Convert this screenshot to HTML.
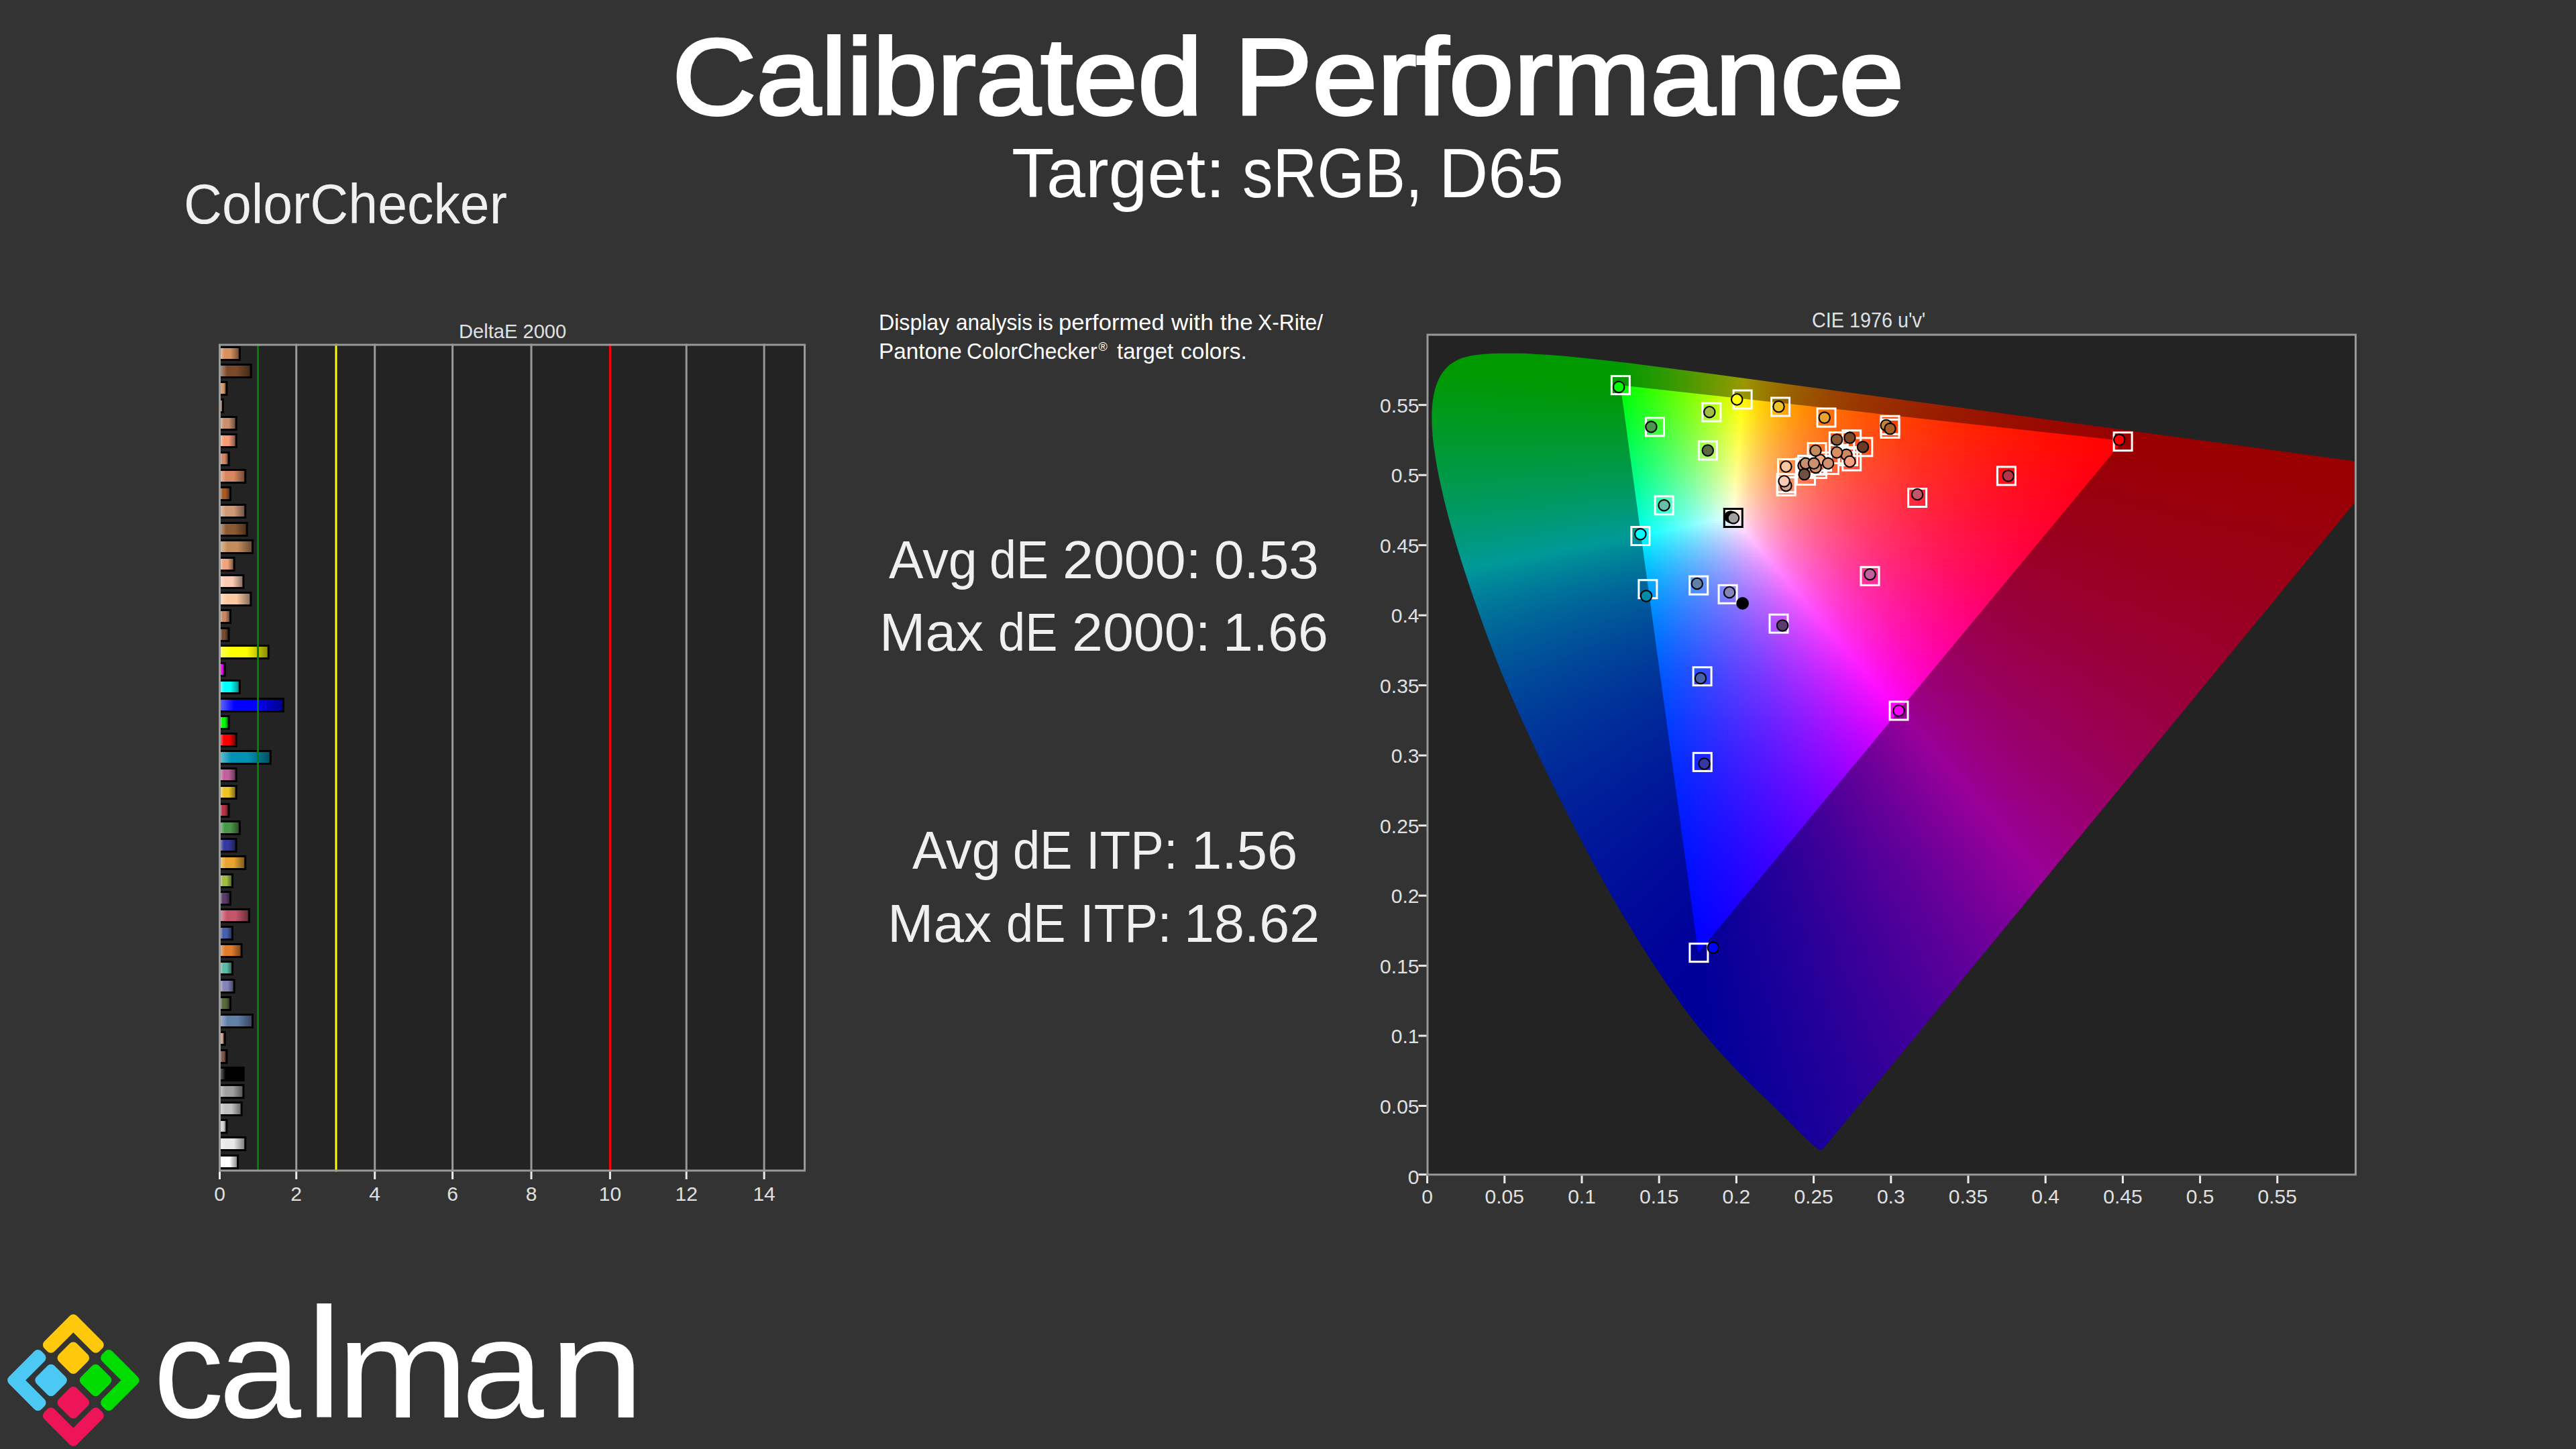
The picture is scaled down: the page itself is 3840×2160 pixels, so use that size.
<!DOCTYPE html><html><head><meta charset="utf-8"><title>Calibrated Performance</title><style>
html,body{margin:0;padding:0}body{width:3840px;height:2160px;overflow:hidden;background:#333333;font-family:"Liberation Sans",sans-serif;position:relative}
.t{position:absolute;white-space:nowrap;line-height:1;transform-origin:0 0;color:#fff}
#cie{position:absolute;left:0;top:0;width:3840px;height:2160px}
#cie i{position:absolute;display:block;height:3px}
svg{position:absolute;left:0;top:0}
svg text{font-family:"Liberation Sans",sans-serif;font-size:30px;fill:#e0e0e0}
</style></head><body>
<div class="t" style="left:0;top:34.2px;font-size:161.2px;color:#ffffff;-webkit-text-stroke:4px #ffffff;paint-order:stroke fill"><span style="position:absolute;left:1002.0px;top:0;transform-origin:0 0;transform:scaleX(1.0757)">Calibrated </span><span style="position:absolute;left:1839.9px;top:0;transform-origin:0 0;transform:scaleX(1.0818)">Performance</span></div>
<div class="t" style="left:0;top:206.8px;font-size:103.6px;color:#ffffff"><span style="position:absolute;left:1508.1px;top:0;transform-origin:0 0;transform:scaleX(1.0046)">Target: </span><span style="position:absolute;left:1851.5px;top:0;transform-origin:0 0;transform:scaleX(0.8802)">sRGB, </span><span style="position:absolute;left:2144.6px;top:0;transform-origin:0 0;transform:scaleX(0.9787)">D65</span></div>
<div class="t" style="left:274.2px;top:263.6px;font-size:82.6px;font-weight:400;transform:scaleX(0.9544);color:#f0f0f0">ColorChecker</div>
<div class="t" style="left:0;top:462.5px;font-size:34.1px;color:#ffffff"><span style="position:absolute;left:1310.2px;top:0;transform-origin:0 0;transform:scaleX(0.9422)">Display </span><span style="position:absolute;left:1425.2px;top:0;transform-origin:0 0;transform:scaleX(0.9264)">analysis </span><span style="position:absolute;left:1547.2px;top:0;transform-origin:0 0;transform:scaleX(0.9286)">is </span><span style="position:absolute;left:1578.4px;top:0;transform-origin:0 0;transform:scaleX(1.0159)">performed </span><span style="position:absolute;left:1745.6px;top:0;transform-origin:0 0;transform:scaleX(1.0356)">with </span><span style="position:absolute;left:1818.5px;top:0;transform-origin:0 0;transform:scaleX(1.0261)">the </span><span style="position:absolute;left:1875.1px;top:0;transform-origin:0 0;transform:scaleX(0.932)">X-Rite/</span></div>
<div class="t" style="left:0;top:505.9px;font-size:34.1px;color:#ffffff"><span style="position:absolute;left:1310.1px;top:0;transform-origin:0 0;transform:scaleX(0.9754)">Pantone </span><span style="position:absolute;left:1441.3px;top:0;transform-origin:0 0;transform:scaleX(0.934)">ColorChecker</span><span style="position:absolute;left:1637.6px;top:2.5px;font-size:18px">® </span><span style="position:absolute;left:1665.1px;top:0;transform-origin:0 0;transform:scaleX(0.9667)">target </span><span style="position:absolute;left:1760.0px;top:0;transform-origin:0 0;transform:scaleX(0.9833)">colors.</span></div>
<div class="t" style="left:0;top:794.8px;font-size:79.7px;color:#f0f0f0"><span style="position:absolute;left:1324.9px;top:0;transform-origin:0 0;transform:scaleX(0.9702)">Avg </span><span style="position:absolute;left:1475.0px;top:0;transform-origin:0 0;transform:scaleX(0.9011)">dE </span><span style="position:absolute;left:1584.2px;top:0;transform-origin:0 0;transform:scaleX(1.0362)">2000: </span><span style="position:absolute;left:1809.6px;top:0;transform-origin:0 0;transform:scaleX(1.004)">0.53</span></div>
<div class="t" style="left:0;top:903.0px;font-size:79.7px;color:#f0f0f0"><span style="position:absolute;left:1310.7px;top:0;transform-origin:0 0;transform:scaleX(1.0306)">Max </span><span style="position:absolute;left:1488.3px;top:0;transform-origin:0 0;transform:scaleX(0.9077)">dE </span><span style="position:absolute;left:1598.1px;top:0;transform-origin:0 0;transform:scaleX(1.0362)">2000: </span><span style="position:absolute;left:1823.3px;top:0;transform-origin:0 0;transform:scaleX(1.011)">1.66</span></div>
<div class="t" style="left:0;top:1228.3px;font-size:79.7px;color:#f0f0f0"><span style="position:absolute;left:1359.7px;top:0;transform-origin:0 0;transform:scaleX(0.9687)">Avg </span><span style="position:absolute;left:1509.8px;top:0;transform-origin:0 0;transform:scaleX(0.9077)">dE </span><span style="position:absolute;left:1619.3px;top:0;transform-origin:0 0;transform:scaleX(0.9348)">ITP: </span><span style="position:absolute;left:1775.5px;top:0;transform-origin:0 0;transform:scaleX(1.0205)">1.56</span></div>
<div class="t" style="left:0;top:1337.0px;font-size:79.7px;color:#f0f0f0"><span style="position:absolute;left:1322.5px;top:0;transform-origin:0 0;transform:scaleX(1.0306)">Max </span><span style="position:absolute;left:1500.1px;top:0;transform-origin:0 0;transform:scaleX(0.9077)">dE </span><span style="position:absolute;left:1609.9px;top:0;transform-origin:0 0;transform:scaleX(0.9341)">ITP: </span><span style="position:absolute;left:1765.2px;top:0;transform-origin:0 0;transform:scaleX(1.0143)">18.62</span></div>
<div class="t" style="left:683.6px;top:478.0px;font-size:30.4px;font-weight:400;transform:scaleX(0.9579);color:#e0e0e0">DeltaE 2000</div>
<div class="t" style="left:2701.0px;top:462.8px;font-size:30.9px;font-weight:400;transform:scaleX(0.9313);color:#e0e0e0">CIE 1976 u'v'</div>
<div class="t" style="left:0;top:1936.3px;font-size:209.9px"><span style="position:absolute;left:228.7px;top:0;transform-origin:0 177.0px;transform:scale(1.0,1.0)">c</span><span style="position:absolute;left:325.5px;top:0;transform-origin:0 177.0px;transform:scale(1.0528,1.0)">a</span><span style="position:absolute;left:456.0px;top:0;transform-origin:0 177.0px;transform:scale(1.1632,1.1118)">l</span><span style="position:absolute;left:501.7px;top:0;transform-origin:0 177.0px;transform:scale(1.1245,1.0)">m</span><span style="position:absolute;left:687.9px;top:0;transform-origin:0 177.0px;transform:scale(1.0519,1.0)">a</span><span style="position:absolute;left:818.0px;top:0;transform-origin:0 177.0px;transform:scale(1.227,1.0)">n</span></div>
<div style="position:absolute;left:2126.5px;top:497.5px;width:1386.5px;height:1255.0px;background:#232323"></div>
<div id="cie" style="clip-path:path('M2718.8 1715.9L2718.5 1715.7L2717.9 1716.2L2716.9 1716.0L2716.3 1717.0L2715.7 1717.2L2712.3 1717.0L2711.0 1716.6L2709.0 1715.6L2706.0 1713.4L2700.8 1709.1L2685.1 1694.6L2661.1 1670.6L2602.0 1612.7L2588.9 1599.5L2574.8 1584.7L2551.8 1559.2L2535.1 1539.6L2526.2 1528.6L2506.5 1502.8L2484.1 1471.3L2459.5 1434.6L2446.6 1414.6L2433.4 1393.4L2419.9 1371.1L2406.0 1347.6L2391.8 1322.9L2377.4 1296.9L2362.8 1269.9L2348.0 1241.9L2318.5 1184.1L2289.3 1124.6L2275.1 1094.4L2261.2 1064.1L2248.0 1033.8L2235.5 1003.8L2223.8 974.3L2212.8 945.4L2202.5 917.1L2192.8 889.6L2183.9 863.0L2175.6 837.5L2168.1 813.1L2161.4 789.9L2155.4 768.0L2150.2 747.5L2145.7 728.2L2141.8 710.2L2138.6 693.4L2136.1 677.6L2134.0 663.0L2132.6 649.5L2131.7 637.0L2131.3 625.4L2131.4 614.7L2131.9 604.7L2133.0 595.4L2134.5 586.8L2136.4 578.8L2138.8 571.5L2141.5 564.8L2144.7 558.7L2148.2 553.2L2152.1 548.3L2156.3 544.0L2160.8 540.3L2165.6 537.1L2170.6 534.3L2175.8 532.0L2181.3 530.0L2186.9 528.5L2192.6 527.2L2198.6 526.2L2210.9 524.9L2223.7 524.0L2236.7 523.7L2256.3 523.6L2276.0 524.1L2310.3 525.9L2332.1 527.7L2354.9 529.9L2387.3 533.4L2431.4 538.6L2557.4 555.0L3561.7 691.4Z')">
<i style="left:2207px;top:522px;width:91px;background:linear-gradient(90deg,#00ff00 0,#00ff00 91px)"></i>
<i style="left:2187px;top:525px;width:151px;background:linear-gradient(90deg,#00ff00 0,#00ff00 151px)"></i>
<i style="left:2176px;top:528px;width:192px;background:linear-gradient(90deg,#00ff00 0,#00ff00 192px)"></i>
<i style="left:2169px;top:531px;width:226px;background:linear-gradient(90deg,#00ff00 0,#00ff00 226px)"></i>
<i style="left:2163px;top:534px;width:258px;background:linear-gradient(90deg,#00ff00 0,#00ff00 247px,#0bff00 258px)"></i>
<i style="left:2159px;top:537px;width:286px;background:linear-gradient(90deg,#00ff00 0,#00ff00 251px,#25ff00 286px)"></i>
<i style="left:2155px;top:540px;width:313px;background:linear-gradient(90deg,#00ff00 0,#00ff00 256px,#3fff00 313px)"></i>
<i style="left:2152px;top:543px;width:340px;background:linear-gradient(90deg,#00ff00 0,#00ff00 259px,#2aff00 298px,#5dff00 340px)"></i>
<i style="left:2149px;top:546px;width:366px;background:linear-gradient(90deg,#00ff02 0,#00ff00 263px,#3bff00 316px,#7bff00 366px)"></i>
<i style="left:2147px;top:549px;width:390px;background:linear-gradient(90deg,#00ff04 0,#00ff00 54px,#00ff00 265px,#48ff00 329px,#9aff00 390px)"></i>
<i style="left:2145px;top:552px;width:415px;background:linear-gradient(90deg,#00ff06 0,#00ff00 83px,#00ff00 268px,#5aff00 345px,#bcff00 415px)"></i>
<i style="left:2143px;top:555px;width:439px;background:linear-gradient(90deg,#00ff08 0,#00ff00 112px,#00ff00 270px,#32ff00 315px,#69ff00 359px,#a3ff00 400px,#e0ff00 439px)"></i>
<i style="left:2141px;top:558px;width:463px;background:linear-gradient(90deg,#00ff0a 0,#00ff00 141px,#00ff00 273px,#35ff00 320px,#6dff00 364px,#b3ff00 413px,#fdff00 458px,#fff800 463px)"></i>
<i style="left:2139px;top:561px;width:488px;background:linear-gradient(90deg,#00ff0c 0,#00ff00 170px,#00ff00 275px,#3aff00 326px,#77ff00 373px,#b8ff00 418px,#feff00 460px,#ffd500 488px)"></i>
<i style="left:2138px;top:564px;width:511px;background:linear-gradient(90deg,#00ff0e 0,#00ff00 198px,#00ff00 276px,#37ff00 325px,#76ff00 374px,#b8ff00 419px,#feff00 461px,#ffd800 486px,#ffba00 511px)"></i>
<i style="left:2137px;top:567px;width:534px;background:linear-gradient(90deg,#00ff10 0,#00ff00 226px,#00ff00 278px,#3bff00 329px,#78ff00 376px,#b9ff00 420px,#ffff00 462px,#ffcd00 495px,#ffa300 534px)"></i>
<i style="left:2136px;top:570px;width:557px;background:linear-gradient(90deg,#00ff12 0,#00ff00 279px,#38ff00 328px,#76ff00 376px,#b9ff00 421px,#ffff00 463px,#ffdf00 483px,#ffc200 505px,#ffa700 530px,#ff9000 557px)"></i>
<i style="left:2135px;top:573px;width:580px;background:linear-gradient(90deg,#00ff14 0,#00ff00 280px,#35ff00 327px,#75ff00 376px,#b6ff00 420px,#fffe00 464px,#ffd800 488px,#ffb700 515px,#ff9900 546px,#ff7f00 580px)"></i>
<i style="left:2134px;top:576px;width:603px;background:linear-gradient(90deg,#00ff16 0,#00ff03 282px,#39ff00 331px,#76ff00 378px,#b4ff00 420px,#fffe00 465px,#ffd400 492px,#ffae00 524px,#ff8d00 561px,#ff7100 603px)"></i>
<i style="left:2133px;top:579px;width:626px;background:linear-gradient(90deg,#00ff18 0,#00ff05 283px,#37ff01 331px,#76ff00 379px,#b8ff00 423px,#ffff00 465px,#ffce00 497px,#ffa600 533px,#ff8300 576px,#ff6500 626px)"></i>
<i style="left:2132px;top:582px;width:649px;background:linear-gradient(90deg,#00ff1a 0,#00ff08 285px,#3aff03 335px,#77ff00 381px,#b9ff00 425px,#ffff00 466px,#ffca00 501px,#ff9e00 542px,#ff7900 591px,#ff5a00 649px)"></i>
<i style="left:2132px;top:585px;width:671px;background:linear-gradient(90deg,#00ff1c 0,#00ff0a 285px,#38ff06 333px,#76ff02 380px,#b8ff00 424px,#feff00 465px,#ffc400 505px,#ff9600 550px,#ff7000 605px,#ff5000 671px)"></i>
<i style="left:2131px;top:588px;width:694px;background:linear-gradient(90deg,#00ff1e 0,#00ff0d 287px,#3aff09 336px,#77ff04 382px,#b8ff00 425px,#feff00 466px,#ffdd00 487px,#ffc100 508px,#ffa700 532px,#ff9000 558px,#ff6800 619px,#ff4700 694px)"></i>
<i style="left:2131px;top:591px;width:716px;background:linear-gradient(90deg,#00ff20 0,#00ff10 287px,#3aff0c 336px,#77ff07 382px,#b8ff03 425px,#ffff00 466px,#ffdb00 488px,#ffbf00 510px,#ffa300 536px,#ff8b00 564px,#ff6100 632px,#ff4000 716px)"></i>
<i style="left:2130px;top:594px;width:740px;background:linear-gradient(90deg,#00ff22 0,#00ff12 288px,#37ff0f 335px,#75ff0a 382px,#b8ff06 426px,#ffff01 467px,#ffdb00 489px,#ffbc00 513px,#ff9f00 541px,#ff8500 572px,#ff5b00 646px,#ff3800 740px)"></i>
<i style="left:2130px;top:597px;width:762px;background:linear-gradient(90deg,#00ff24 0,#00ff15 289px,#39ff11 337px,#77ff0d 383px,#b8ff09 426px,#feff05 466px,#ffd601 492px,#ffb700 517px,#ff9a00 546px,#ff8000 579px,#ff6900 617px,#ff5400 659px,#ff3200 762px)"></i>
<i style="left:2130px;top:600px;width:784px;background:linear-gradient(90deg,#00ff26 0,#00ff18 289px,#37ff14 336px,#77ff10 383px,#b9ff0c 426px,#feff08 466px,#ffd604 492px,#ffb401 519px,#ff9600 550px,#ff7b00 586px,#ff6300 626px,#ff4f00 672px,#ff2c00 784px)"></i>
<i style="left:2129px;top:603px;width:807px;background:linear-gradient(90deg,#00ff28 0,#00ff1a 291px,#3aff17 339px,#78ff13 385px,#b9ff10 427px,#feff0c 467px,#ffd507 493px,#ffb104 522px,#ff9200 555px,#ff7600 593px,#ff5e00 636px,#ff4900 686px,#ff2700 807px)"></i>
<i style="left:2129px;top:606px;width:829px;background:linear-gradient(90deg,#00ff2a 0,#00ff1d 291px,#39ff1a 339px,#76ff17 384px,#b9ff13 427px,#ffff0f 467px,#ffd30a 494px,#ffaf06 524px,#ff8e02 559px,#ff7200 599px,#ff5a00 645px,#ff4400 698px,#ff2200 829px)"></i>
<i style="left:2129px;top:609px;width:851px;background:linear-gradient(90deg,#00ff2c 0,#01ff20 292px,#39ff1d 339px,#76ff1a 384px,#b7ff16 426px,#fdff13 466px,#ffd00d 496px,#ffab08 527px,#ff8b04 563px,#ff6e01 605px,#ff5500 654px,#ff4000 710px,#ff2e00 775px,#ff1d00 851px)"></i>
<i style="left:2129px;top:612px;width:873px;background:linear-gradient(90deg,#00ff2e 0,#00ff22 292px,#39ff20 339px,#76ff1d 384px,#b7ff1a 426px,#feff16 466px,#ffd010 496px,#ffaa0b 528px,#ff8806 566px,#ff6a02 611px,#ff5100 663px,#ff3c00 723px,#ff2900 792px,#ff1900 873px)"></i>
<i style="left:2129px;top:615px;width:895px;background:linear-gradient(90deg,#00ff30 0,#00ff25 292px,#37ff23 338px,#75ff20 383px,#b4ff1d 424px,#fffe1a 467px,#ffcf13 496px,#ffa70d 530px,#ff8408 570px,#ff6704 617px,#ff4d00 671px,#ff3800 735px,#ff2500 809px,#ff1500 895px)"></i>
<i style="left:2129px;top:618px;width:917px;background:linear-gradient(90deg,#00ff32 0,#00ff28 293px,#39ff26 340px,#78ff23 385px,#b9ff20 427px,#ffff1d 466px,#ffcd16 497px,#ffa40f 532px,#ff820a 573px,#ff6305 622px,#ff4a01 679px,#ff3400 746px,#ff2100 825px,#ff1200 917px)"></i>
<i style="left:2129px;top:621px;width:939px;background:linear-gradient(90deg,#00ff34 0,#00ff2b 293px,#38ff29 339px,#76ff26 384px,#b8ff24 426px,#ffff21 466px,#ffcd19 497px,#ffa312 533px,#ff7f0c 576px,#ff6006 627px,#ff4602 687px,#ff3100 757px,#ff1e00 840px,#ff0e00 939px)"></i>
<i style="left:2129px;top:624px;width:961px;background:linear-gradient(90deg,#00ff36 0,#00ff2e 294px,#3aff2c 341px,#77ff29 385px,#b6ff27 425px,#fffe25 466px,#ffcb1b 498px,#ffa114 535px,#ff7c0d 580px,#ff5d08 633px,#ff4303 696px,#ff2d00 770px,#ff1b00 857px,#ff0b00 961px)"></i>
<i style="left:2129px;top:627px;width:983px;background:linear-gradient(90deg,#00ff38 0,#00ff31 294px,#39ff2f 340px,#76ff2d 384px,#b5ff2b 424px,#fffe28 466px,#ffca1e 498px,#ff9e16 537px,#ff790f 583px,#ff5a09 638px,#ff4004 703px,#ff2a00 781px,#ff1800 873px,#ff0800 983px)"></i>
<i style="left:2129px;top:630px;width:1005px;background:linear-gradient(90deg,#00ff3b 0,#00ff33 294px,#36ff32 338px,#74ff30 383px,#b2ff2e 422px,#fffd2c 466px,#ffc921 499px,#ff9c18 539px,#ff7610 587px,#ff570a 644px,#ff3d05 712px,#ff2700 793px,#ff1500 890px,#ff0500 1005px)"></i>
<i style="left:2129px;top:633px;width:1028px;background:linear-gradient(90deg,#00ff3d 0,#00ff36 295px,#39ff35 341px,#77ff33 385px,#b8ff32 426px,#ffff30 465px,#ffc824 499px,#ff9a1a 540px,#ff7412 589px,#ff550c 648px,#ff3a06 719px,#ff2401 804px,#ff1200 906px,#ff0300 1028px)"></i>
<i style="left:2129px;top:636px;width:1050px;background:linear-gradient(90deg,#00ff3f 0,#00ff39 295px,#38ff38 340px,#75ff37 384px,#b5ff35 424px,#fffe33 465px,#ffe12d 482px,#ffc627 500px,#ff981c 542px,#ff7214 592px,#ff520d 653px,#ff3807 726px,#ff2202 815px,#ff0f00 922px,#ff0000 1050px)"></i>
<i style="left:2129px;top:639px;width:1072px;background:linear-gradient(90deg,#00ff41 0,#00ff3c 296px,#39ff3b 341px,#75ff3a 384px,#b4ff39 423px,#fffe37 465px,#ffe030 482px,#ffc52a 501px,#ff961f 544px,#ff6f15 596px,#ff4f0e 660px,#ff3407 739px,#ff1d02 835px,#ff0900 966px,#ff0000 1072px)"></i>
<i style="left:2130px;top:642px;width:1093px;background:linear-gradient(90deg,#00ff43 0,#00ff3f 295px,#38ff3e 340px,#75ff3d 383px,#b2ff3c 421px,#fffd3b 464px,#ffde33 482px,#ffc32c 501px,#ff9321 545px,#ff6c17 599px,#ff4c0f 665px,#ff3008 750px,#ff1902 854px,#ff0300 1018px,#ff0000 1093px)"></i>
<i style="left:2130px;top:645px;width:1115px;background:linear-gradient(90deg,#00ff45 0,#00ff42 295px,#37ff42 339px,#77ff41 384px,#b9ff40 425px,#ffff3f 463px,#ffdf37 481px,#ffc430 500px,#ffa929 522px,#ff9223 546px,#ff6a18 602px,#ff4910 671px,#ff2c08 762px,#ff1602 874px,#ff0000 1043px,#ff0000 1115px)"></i>
<i style="left:2130px;top:648px;width:1137px;background:linear-gradient(90deg,#00ff47 0,#00ff45 296px,#39ff45 341px,#77ff44 384px,#b8ff44 424px,#fffe43 463px,#ffdf3a 481px,#ffc232 501px,#ffa82b 523px,#ff9025 548px,#ff671a 606px,#ff4611 677px,#ff2909 774px,#ff1203 895px,#ff0000 1041px,#ff0000 1137px)"></i>
<i style="left:2130px;top:651px;width:1159px;background:linear-gradient(90deg,#00ff4a 0,#00ff48 296px,#37ff48 340px,#75ff48 383px,#b4ff47 422px,#fffe47 463px,#ffde3e 481px,#ffc035 502px,#ffa52d 525px,#ff8e27 550px,#ff641b 610px,#ff4412 683px,#ff2609 786px,#ff0f03 916px,#ff0000 1038px,#ff0000 1159px)"></i>
<i style="left:2131px;top:654px;width:1180px;background:linear-gradient(90deg,#00ff4c 0,#00ff4b 296px,#38ff4b 340px,#75ff4b 382px,#b3ff4b 420px,#fffe4a 462px,#ffdc41 481px,#ffbe38 502px,#ffa430 525px,#ff8b29 551px,#ff621d 612px,#ff4113 688px,#ff230a 797px,#ff0b03 937px,#ff0000 1035px,#ff0000 1180px)"></i>
<i style="left:2131px;top:657px;width:1202px;background:linear-gradient(90deg,#00ff4e 0,#00ff4e 296px,#39ff4f 341px,#78ff4f 384px,#baff4f 424px,#ffff4f 461px,#ffdd44 480px,#ffbe3b 502px,#ffa232 526px,#ff8a2b 552px,#ff601e 615px,#ff3f14 693px,#ff200a 809px,#ff0803 958px,#ff0000 1033px,#ff0000 1202px)"></i>
<i style="left:2131px;top:660px;width:1224px;background:linear-gradient(90deg,#00ff50 0,#00ff52 296px,#35ff52 338px,#75ff52 382px,#b6ff52 422px,#ffff53 461px,#ffdd48 480px,#ffbd3e 502px,#ffa135 527px,#ff882d 554px,#ff5e1f 618px,#ff3d15 699px,#ff1d0b 821px,#ff0503 981px,#ff0001 1030px,#ff0000 1224px)"></i>
<i style="left:2132px;top:663px;width:1246px;background:linear-gradient(90deg,#00ff52 0,#00ff55 296px,#39ff55 340px,#76ff56 382px,#b5ff56 420px,#fffe57 460px,#ffda4b 480px,#ffbb40 502px,#ff9f37 527px,#ff862f 555px,#ff5c21 621px,#ff3a16 704px,#ff1b0b 833px,#ff0203 1004px,#ff0000 1246px)"></i>
<i style="left:2132px;top:666px;width:1268px;background:linear-gradient(90deg,#00ff55 0,#00ff58 296px,#37ff59 339px,#74ff59 381px,#b3ff5a 419px,#fffe5a 460px,#ffda4e 480px,#ffbb43 502px,#ff9f3a 527px,#ff8531 556px,#ff5a22 624px,#ff3816 709px,#ff180b 844px,#ff0003 1023px,#ff0000 1268px)"></i>
<i style="left:2132px;top:669px;width:1290px;background:linear-gradient(90deg,#00ff57 0,#00ff5b 297px,#39ff5c 341px,#77ff5d 383px,#b9ff5e 422px,#ffff5f 459px,#ffdb52 479px,#ffba47 502px,#ff9d3c 528px,#ff8333 557px,#ff6d2b 589px,#ff5824 626px,#ff3617 714px,#ff180c 846px,#ff0004 1021px,#ff0000 1290px)"></i>
<i style="left:2133px;top:672px;width:1311px;background:linear-gradient(90deg,#00ff59 0,#00ff5e 296px,#38ff5f 339px,#76ff61 381px,#b7ff62 420px,#ffff63 458px,#ffd955 479px,#ffb849 502px,#ff9c3e 528px,#ff8235 557px,#ff6b2d 590px,#ff5625 628px,#ff3418 718px,#ff170d 848px,#ff0005 1018px,#ff0000 1311px)"></i>
<i style="left:2133px;top:675px;width:1333px;background:linear-gradient(90deg,#00ff5b 0,#01ff61 297px,#3aff63 341px,#77ff64 382px,#b5ff66 419px,#fffe67 458px,#ffd859 479px,#ffb84c 502px,#ff9a41 529px,#ff8037 559px,#ff692e 593px,#ff5526 631px,#ff3219 723px,#ff160e 850px,#ff0006 1015px,#ff0000 1333px)"></i>
<i style="left:2134px;top:678px;width:1354px;background:linear-gradient(90deg,#00ff5e 0,#00ff65 296px,#38ff66 339px,#75ff68 380px,#b4ff6a 417px,#fffe6b 457px,#ffd85c 478px,#ffb64f 502px,#ff9943 529px,#ff7e39 560px,#ff672f 595px,#ff5227 634px,#ff301a 728px,#ff150f 852px,#ff0007 1012px,#ff0000 1354px)"></i>
<i style="left:2134px;top:681px;width:1376px;background:linear-gradient(90deg,#00ff60 0,#00ff68 296px,#35ff6a 337px,#74ff6c 379px,#b0ff6d 415px,#fffd6f 457px,#ffd65f 479px,#ffb451 503px,#ff9745 530px,#ff7d3b 561px,#ff6631 596px,#ff5129 636px,#ff2f1b 733px,#ff1510 854px,#ff0008 1009px,#ff0000 1376px)"></i>
<i style="left:2135px;top:684px;width:1375px;background:linear-gradient(90deg,#00ff62 0,#00ff6b 296px,#39ff6d 339px,#77ff6f 380px,#b8ff72 418px,#ffff74 455px,#ffd864 476px,#ffb656 500px,#ff9849 528px,#ff7d3d 559px,#ff6634 594px,#ff512b 634px,#ff2f1c 730px,#ff1511 851px,#ff0009 1006px,#ff0000 1375px)"></i>
<i style="left:2135px;top:687px;width:1375px;background:linear-gradient(90deg,#00ff65 0,#00ff6f 296px,#37ff71 338px,#75ff73 379px,#b6ff76 417px,#fffe78 455px,#ffd867 476px,#ffb659 500px,#ff974b 528px,#ff7c40 559px,#ff6536 594px,#ff512d 634px,#ff2e1e 730px,#ff1413 850px,#ff000a 1003px,#ff0000 1375px)"></i>
<i style="left:2136px;top:690px;width:1374px;background:linear-gradient(90deg,#00ff67 0,#00ff72 296px,#39ff74 338px,#75ff77 378px,#b4ff7a 415px,#fffe7c 454px,#ffd76b 475px,#ffb55c 499px,#ff964e 527px,#ff7c42 558px,#ff6538 593px,#ff502f 633px,#ff2e1f 729px,#ff1414 848px,#ff000b 1000px,#ff0000 1374px)"></i>
<i style="left:2136px;top:693px;width:1374px;background:linear-gradient(90deg,#00ff69 0,#00ff75 296px,#38ff78 338px,#75ff7b 378px,#b3ff7e 414px,#fffd80 454px,#ffd76f 475px,#ffb55f 499px,#ff9651 527px,#ff7b45 558px,#ff643a 593px,#ff5030 633px,#ff2e21 729px,#ff1415 847px,#ff000c 997px,#ff0000 1374px)"></i>
<i style="left:2137px;top:696px;width:1373px;background:linear-gradient(90deg,#00ff6c 0,#00ff79 295px,#36ff7c 336px,#76ff7f 378px,#b8ff82 416px,#ffff86 452px,#ffd873 473px,#ffb563 497px,#ff9754 524px,#ff7c48 555px,#ff653d 590px,#ff5033 630px,#ff2e22 727px,#ff1416 845px,#ff000d 994px,#ff0000 1373px)"></i>
<i style="left:2137px;top:699px;width:1373px;background:linear-gradient(90deg,#00ff6e 0,#00ff7c 296px,#39ff7f 338px,#76ff83 378px,#b7ff86 415px,#fffe8a 452px,#ffd777 473px,#ffb566 497px,#ff9757 524px,#ff7c4a 555px,#ff643f 590px,#ff5035 630px,#ff2d24 726px,#ff1417 843px,#ff000e 991px,#ff0001 1373px)"></i>
<i style="left:2138px;top:702px;width:1372px;background:linear-gradient(90deg,#00ff71 0,#00ff80 295px,#37ff83 336px,#75ff87 376px,#b3ff8a 412px,#fffe8e 451px,#ffd77a 472px,#ffb469 496px,#ff965a 523px,#ff7b4d 554px,#ff6441 589px,#ff4f36 629px,#ff2d25 725px,#ff1419 841px,#ff000f 988px,#ff0002 1372px)"></i>
<i style="left:2138px;top:705px;width:1372px;background:linear-gradient(90deg,#00ff73 0,#00ff83 296px,#38ff87 337px,#74ff8b 376px,#b1ff8e 411px,#fffd92 451px,#ffd67e 472px,#ffb46c 496px,#ff965d 523px,#ff7b4f 554px,#ff6443 589px,#ff4f38 629px,#ff2d27 725px,#ff141a 840px,#ff0010 985px,#ff0002 1372px)"></i>
<i style="left:2139px;top:708px;width:1371px;background:linear-gradient(90deg,#00ff76 0,#00ff87 295px,#39ff8b 337px,#78ff8f 377px,#b9ff93 414px,#ffff98 449px,#ffd783 470px,#ffb570 494px,#ff9660 521px,#ff7b52 552px,#ff6445 587px,#ff4f3a 627px,#ff2d28 723px,#ff141b 837px,#ff0011 982px,#ff0003 1371px)"></i>
<i style="left:2139px;top:711px;width:1371px;background:linear-gradient(90deg,#00ff78 0,#00ff8a 295px,#35ff8e 334px,#74ff93 375px,#b5ff97 412px,#fffe9c 449px,#ffd787 470px,#ffb474 494px,#ff9663 521px,#ff7b54 552px,#ff6348 587px,#ff4e3c 627px,#ff2c2a 723px,#ff141c 836px,#ff0012 979px,#ff0003 1371px)"></i>
<i style="left:2140px;top:714px;width:1370px;background:linear-gradient(90deg,#00ff7a 0,#00ff8e 295px,#39ff92 336px,#76ff97 375px,#b4ff9b 410px,#fffea0 448px,#ffd68a 469px,#ffb477 493px,#ff9566 520px,#ff7a57 551px,#ff634a 586px,#ff4e3e 626px,#ff2c2b 722px,#ff131e 834px,#ff0013 976px,#ff0004 1370px)"></i>
<i style="left:2141px;top:717px;width:1369px;background:linear-gradient(90deg,#00ff7d 0,#00ff92 294px,#37ff96 334px,#74ff9b 373px,#b2ffa0 408px,#fffda5 447px,#ffd68e 468px,#ffb37a 492px,#ff9569 519px,#ff7a59 550px,#ff624c 585px,#ff4d40 625px,#ff2b2d 721px,#ff131f 833px,#ff0014 973px,#ff0004 1369px)"></i>
<i style="left:2141px;top:720px;width:1369px;background:linear-gradient(90deg,#00ff7f 0,#00ff95 295px,#39ff9a 336px,#77ff9f 375px,#baffa5 412px,#ffffaa 446px,#ffd793 467px,#ffb57f 490px,#ff966d 517px,#ff7b5d 548px,#ff634f 583px,#ff4e43 623px,#ff2c2e 719px,#ff1320 830px,#ff0015 970px,#ff0005 1369px)"></i>
<i style="left:2142px;top:723px;width:1368px;background:linear-gradient(90deg,#00ff82 0,#00ff99 294px,#38ff9e 334px,#75ffa3 373px,#b6ffa9 409px,#ffffaf 445px,#ffd697 466px,#ffb482 489px,#ff9670 516px,#ff7a5f 547px,#ff6251 582px,#ff4d44 622px,#ff2b30 718px,#ff1321 828px,#ff0016 967px,#ff0005 1368px)"></i>
<i style="left:2143px;top:726px;width:1367px;background:linear-gradient(90deg,#00ff85 0,#01ff9d 294px,#3affa2 335px,#77ffa8 373px,#b6ffad 408px,#fffeb3 444px,#ffd69b 465px,#ffb486 488px,#ff9573 515px,#ff7a62 546px,#ff6253 581px,#ff4d46 621px,#ff2b31 717px,#ff1323 826px,#ff0017 963px,#ff0006 1367px)"></i>
<i style="left:2143px;top:729px;width:1367px;background:linear-gradient(90deg,#00ff87 0,#00ffa1 294px,#38ffa6 334px,#75ffac 372px,#b2ffb2 406px,#fffdb8 444px,#ffd59f 465px,#ffb389 488px,#ff9476 515px,#ff7964 546px,#ff6155 581px,#ff4d49 620px,#ff2a33 717px,#ff1324 825px,#ff0018 961px,#ff0007 1367px)"></i>
<i style="left:2144px;top:732px;width:1366px;background:linear-gradient(90deg,#00ff8a 0,#00ffa4 293px,#37ffaa 332px,#77ffb0 372px,#b8ffb7 408px,#ffffbe 442px,#ffd6a4 463px,#ffb48d 486px,#ff9579 513px,#ff7a68 543px,#ff6258 578px,#ff4d4b 617px,#ff2b35 714px,#ff1325 822px,#ff0019 957px,#ff0007 1366px)"></i>
<i style="left:2145px;top:735px;width:1365px;background:linear-gradient(90deg,#00ff8c 0,#00ff99 160px,#00ffa8 293px,#39ffae 333px,#77ffb5 371px,#b7ffbb 406px,#ffffc2 441px,#ffd6a7 462px,#ffb391 485px,#ff947c 512px,#ff7a6b 542px,#ff625b 577px,#ff4d4d 616px,#ff2a36 713px,#ff1327 820px,#ff001a 954px,#ff0008 1365px)"></i>
<i style="left:2145px;top:738px;width:1365px;background:linear-gradient(90deg,#00ff8f 0,#00ff9c 160px,#00ffac 293px,#37ffb2 332px,#75ffb9 370px,#b5ffc0 405px,#fffec7 441px,#ffd5ab 462px,#ffb394 485px,#ff947f 512px,#ff796d 542px,#ff615d 577px,#ff4c4f 616px,#ff2a38 713px,#ff1328 819px,#ff001b 951px,#ff0008 1365px)"></i>
<i style="left:2146px;top:741px;width:1364px;background:linear-gradient(90deg,#00ff91 0,#00ff9f 160px,#01ffb0 293px,#3affb7 333px,#76ffbd 370px,#b3ffc4 403px,#fffecc 440px,#ffd5af 461px,#ffb298 484px,#ff9382 511px,#ff7970 541px,#ff615f 576px,#ff4c51 615px,#ff2939 712px,#ff1229 817px,#ff001d 948px,#ff0009 1364px)"></i>
<i style="left:2147px;top:744px;width:1363px;background:linear-gradient(90deg,#00ff94 0,#00ffa3 159px,#00ffb4 292px,#38ffbb 331px,#74ffc2 368px,#b1ffc9 401px,#fffdd0 439px,#ffd4b3 460px,#ffb29b 483px,#ff9385 510px,#ff7872 540px,#ff6062 575px,#ff4b53 614px,#ff293b 711px,#ff122b 815px,#ff001e 944px,#ff0012 1128px,#ff0009 1363px)"></i>
<i style="left:2148px;top:747px;width:1362px;background:linear-gradient(90deg,#00ff97 0,#00ffa6 159px,#00ffb8 291px,#36ffbf 329px,#76ffc6 368px,#b7ffce 403px,#ffffd7 437px,#ffd5b9 458px,#ffb2a0 481px,#ff9389 508px,#ff7876 538px,#ff6064 573px,#ff4b55 612px,#ff293d 708px,#ff122c 812px,#ff001f 941px,#ff0013 1125px,#ff000a 1362px)"></i>
<i style="left:2148px;top:750px;width:1362px;background:linear-gradient(90deg,#00ff99 0,#00ffa9 160px,#00ffbc 292px,#39ffc3 331px,#76ffcb 368px,#b5ffd3 402px,#fffedb 437px,#ffd5bd 458px,#ffb2a3 481px,#ff928c 508px,#ff7878 538px,#ff6067 573px,#ff4b57 612px,#ff293e 708px,#ff122d 810px,#ff0020 938px,#ff0014 1123px,#ff000b 1362px)"></i>
<i style="left:2149px;top:753px;width:1361px;background:linear-gradient(90deg,#00ff9c 0,#00ffac 159px,#00ffc0 291px,#37ffc7 329px,#74ffcf 366px,#b4ffd7 400px,#fffee0 436px,#ffd4c1 457px,#ffb1a7 480px,#ff928f 507px,#ff777b 537px,#ff5f69 572px,#ff4b59 611px,#ff2840 707px,#ff122f 809px,#ff0021 935px,#ff0015 1121px,#ff000b 1361px)"></i>
<i style="left:2150px;top:756px;width:1360px;background:linear-gradient(90deg,#00ff9f 0,#00ffb0 159px,#00ffc4 291px,#38ffcc 329px,#74ffd4 365px,#b0ffdc 397px,#fffde5 435px,#ffd4c5 456px,#ffb1aa 479px,#ff9192 506px,#ff777e 536px,#ff5f6b 571px,#ff4a5b 610px,#ff2841 706px,#ff1230 806px,#ff0022 931px,#ff0016 1118px,#ff000c 1360px)"></i>
<i style="left:2151px;top:759px;width:1358px;background:linear-gradient(90deg,#00ffa2 0,#00ffb3 159px,#00ffc8 290px,#39ffd0 329px,#77ffd9 366px,#b8ffe2 400px,#ffffec 433px,#ffd6cc 453px,#ffb3b0 476px,#ff9397 503px,#ff7881 533px,#ff5f6e 568px,#ff4a5e 607px,#ff2843 703px,#ff1232 803px,#ff0024 928px,#ff0016 1115px,#ff000c 1358px)"></i>
<i style="left:2151px;top:762px;width:1355px;background:linear-gradient(90deg,#00ffa4 0,#00ffb7 159px,#00ffcc 290px,#34ffd4 326px,#74ffdd 364px,#b4ffe6 398px,#fffef1 433px,#ffd6d0 453px,#ffb2b4 476px,#ff929a 503px,#ff7784 533px,#ff5f71 567px,#ff4a60 606px,#ff2845 702px,#ff1233 801px,#ff0025 925px,#ff0017 1112px,#ff000d 1355px)"></i>
<i style="left:2152px;top:765px;width:1352px;background:linear-gradient(90deg,#00ffa7 0,#00ffba 159px,#00ffd1 290px,#39ffd9 328px,#75ffe2 364px,#b4ffeb 397px,#fffef5 432px,#ffd5d4 452px,#ffb2b7 475px,#ff929d 502px,#ff7787 532px,#ff5f74 566px,#ff4a62 605px,#ff2846 701px,#ff1234 800px,#ff0026 922px,#ff0018 1109px,#ff000e 1352px)"></i>
<i style="left:2153px;top:768px;width:1348px;background:linear-gradient(90deg,#00ffaa 0,#00ffbd 158px,#00ffd5 289px,#35ffdd 325px,#73ffe7 362px,#b0fff0 394px,#fffdfa 431px,#ffd5d9 451px,#ffb1bb 474px,#ff92a1 500px,#ff778a 530px,#ff5f76 564px,#ff4a65 603px,#ff2748 699px,#ff1236 797px,#ff0027 918px,#ff0019 1105px,#ff000e 1348px)"></i>
<i style="left:2154px;top:771px;width:1345px;background:linear-gradient(90deg,#00ffad 0,#00ffc1 158px,#00ffd9 289px,#36ffe2 325px,#70ffeb 359px,#acfff4 391px,#efffff 422px,#fffafd 431px,#ffd2dc 451px,#ffafbd 474px,#ff91a3 500px,#ff758c 530px,#ff5e78 564px,#ff4967 603px,#ff2749 699px,#ff1137 796px,#ff0028 915px,#ff001a 1102px,#ff000f 1345px)"></i>
<i style="left:2155px;top:774px;width:1341px;background:linear-gradient(90deg,#00ffb0 0,#00ffc4 158px,#00ffdd 288px,#31ffe5 321px,#68ffee 354px,#ceffff 406px,#fff5ff 432px,#ffcedd 452px,#ffacbf 475px,#ff8da4 502px,#ff728d 532px,#ff5b79 566px,#ff4767 605px,#ff264a 700px,#ff1138 795px,#ff002a 911px,#ff001b 1098px,#ff0010 1341px)"></i>
<i style="left:2155px;top:777px;width:1339px;background:linear-gradient(90deg,#00ffb2 0,#00ffc8 158px,#00ffe2 288px,#50ffef 340px,#adffff 390px,#ffeefe 435px,#ffc7db 456px,#ffa6be 479px,#ff88a4 506px,#ff6f8d 536px,#ff5879 571px,#ff4467 610px,#ff244b 705px,#ff1039 797px,#ff002b 909px,#ff001c 1096px,#ff0010 1339px)"></i>
<i style="left:2156px;top:780px;width:1335px;background:linear-gradient(90deg,#00ffb5 0,#00ffcb 158px,#00ffe6 288px,#46fff2 333px,#8fffff 374px,#ffe9ff 436px,#ffc3dc 457px,#ffa3bf 480px,#ff86a5 507px,#ff6d8e 537px,#ff567a 572px,#ff4369 611px,#ff234c 706px,#ff103a 796px,#ff002c 905px,#ff001d 1092px,#ff0011 1335px)"></i>
<i style="left:2157px;top:783px;width:1332px;background:linear-gradient(90deg,#00ffb8 0,#00ffcf 157px,#00ffea 287px,#35fff4 322px,#73ffff 358px,#ffe3fe 438px,#ffbedc 459px,#ff9fc0 482px,#ff82a5 509px,#ff698e 540px,#ff547a 575px,#ff4169 614px,#ff214c 710px,#ff0f3b 797px,#ff002d 902px,#ff001e 1089px,#ff0012 1332px)"></i>
<i style="left:2158px;top:786px;width:1328px;background:linear-gradient(90deg,#00ffbb 0,#00ffd3 157px,#00ffef 287px,#58ffff 342px,#ffdeff 439px,#ffbadd 460px,#ff9cc1 483px,#ff80a7 510px,#ff6790 541px,#ff527c 576px,#ff406a 615px,#ff214d 711px,#ff0f3d 796px,#ff002f 898px,#ff001f 1085px,#ff0012 1328px)"></i>
<i style="left:2159px;top:789px;width:1325px;background:linear-gradient(90deg,#00ffbe 0,#00ffd6 157px,#00fff3 286px,#3effff 326px,#96edff 380px,#ffd8fe 441px,#ffb5dd 462px,#ff97c0 486px,#ff7ca6 513px,#ff6490 544px,#ff3d6a 619px,#ff1f4e 715px,#ff0e3e 797px,#ff0030 895px,#ff0020 1081px,#ff0013 1325px)"></i>
<i style="left:2159px;top:792px;width:1322px;background:linear-gradient(90deg,#00ffc1 0,#00ffda 157px,#01fff8 287px,#25ffff 311px,#90e9ff 378px,#ffd3ff 443px,#ffb2de 464px,#ff94c1 488px,#ff7aa8 515px,#ff6291 546px,#ff3c6c 621px,#ff1e4f 717px,#ff0e3f 798px,#ff0031 893px,#ff0021 1079px,#ff0014 1322px)"></i>
<i style="left:2160px;top:795px;width:1319px;background:linear-gradient(90deg,#00ffc4 0,#00ffde 157px,#00fffd 286px,#7ae9ff 365px,#ffcefe 445px,#ffadde 466px,#ff90c1 490px,#ff76a7 518px,#ff5f91 549px,#ff3a6c 624px,#ff1d4f 720px,#ff0033 889px,#ff0022 1075px,#ff0014 1319px)"></i>
<i style="left:2161px;top:798px;width:1315px;background:linear-gradient(90deg,#00ffc7 0,#00ffdf 142px,#00fdff 285px,#71e6ff 360px,#ffc8fe 447px,#ffa7dd 469px,#ff8bc0 493px,#ff72a7 521px,#ff5c91 552px,#ff386c 627px,#ff1b4f 724px,#ff0034 886px,#ff0022 1072px,#ff0015 1315px)"></i>
<i style="left:2162px;top:801px;width:1312px;background:linear-gradient(90deg,#00ffca 0,#00ffe2 142px,#00ffff 261px,#00f8ff 285px,#7bdfff 367px,#ffc4ff 448px,#ffa4de 470px,#ff89c2 494px,#ff70a8 522px,#ff5a92 553px,#ff366d 628px,#ff1a50 725px,#ff0035 882px,#ff0023 1068px,#ff0016 1312px)"></i>
<i style="left:2163px;top:804px;width:1308px;background:linear-gradient(90deg,#00ffcd 0,#00ffe4 132px,#00ffff 245px,#00f4ff 284px,#74dcff 363px,#ffbefe 450px,#ff9fdd 472px,#ff85c2 496px,#ff6da9 524px,#ff5893 555px,#ff356e 631px,#ff1951 728px,#ff0037 879px,#ff0024 1065px,#ff0016 1308px)"></i>
<i style="left:2164px;top:807px;width:1305px;background:linear-gradient(90deg,#00ffd0 0,#00ffe6 123px,#00ffff 228px,#00efff 284px,#7bd6ff 368px,#ffbaff 451px,#ff9cdf 473px,#ff81c2 498px,#ff6aa9 526px,#ff5693 557px,#ff336e 633px,#ff1852 730px,#ff0038 875px,#ff0025 1061px,#ff0017 1305px)"></i>
<i style="left:2165px;top:810px;width:1302px;background:linear-gradient(90deg,#00ffd4 0,#00ffe8 113px,#00ffff 212px,#00ebff 283px,#76d3ff 365px,#ffb5fe 453px,#ff98de 475px,#ff7ec2 500px,#ff67a9 528px,#ff5393 560px,#ff316f 636px,#ff1752 733px,#ff0039 872px,#ff0026 1058px,#ff0018 1302px)"></i>
<i style="left:2166px;top:813px;width:1298px;background:linear-gradient(90deg,#00ffd7 0,#00ffea 104px,#00ffff 196px,#00e7ff 282px,#78ceff 367px,#ffb2ff 454px,#ff95df 476px,#ff7cc3 501px,#ff65ab 529px,#ff5194 561px,#ff3070 637px,#ff1653 735px,#ff003b 868px,#ff0027 1054px,#ff0019 1298px)"></i>
<i style="left:2167px;top:816px;width:1295px;background:linear-gradient(90deg,#00ffda 0,#00ffff 180px,#00e3ff 282px,#79caff 368px,#ffadfe 456px,#ff93e2 476px,#ff7cc7 499px,#ff559c 552px,#ff3679 619px,#ff1c5c 702px,#ff0d4b 777px,#ff003c 865px,#ff0028 1050px,#ff0019 1295px)"></i>
<i style="left:2167px;top:819px;width:1292px;background:linear-gradient(90deg,#00ffdd 0,#00ffff 164px,#00dfff 282px,#7ac5ff 370px,#ffa9ff 458px,#ff8fe1 479px,#ff79c9 501px,#ff539c 555px,#ff347a 621px,#ff1c5d 704px,#ff0d4c 777px,#ff003e 862px,#ff0029 1047px,#ff001a 1292px)"></i>
<i style="left:2168px;top:822px;width:1289px;background:linear-gradient(90deg,#00ffe0 0,#00ffff 148px,#00dbff 282px,#79c2ff 370px,#ffa5fe 460px,#ff8de2 480px,#ff76c9 503px,#ff519e 556px,#ff337b 622px,#ff1b5e 705px,#ff003f 859px,#ff002a 1044px,#ff001b 1289px)"></i>
<i style="left:2169px;top:825px;width:1285px;background:linear-gradient(90deg,#00ffe4 0,#00ffff 132px,#00d8ff 281px,#74bfff 367px,#ffa0fe 462px,#ff89e2 482px,#ff73c9 505px,#ff4e9d 559px,#ff317b 625px,#ff1a5f 707px,#ff0041 855px,#ff002c 1040px,#ff001b 1285px)"></i>
<i style="left:2170px;top:828px;width:1282px;background:linear-gradient(90deg,#00ffe7 0,#00ffff 116px,#00d4ff 280px,#76bbff 369px,#ff9dff 463px,#ff86e3 483px,#ff71ca 506px,#ff4d9e 560px,#ff307c 626px,#ff1960 708px,#ff0042 852px,#ff002d 1037px,#ff001c 1282px)"></i>
<i style="left:2171px;top:831px;width:1278px;background:linear-gradient(90deg,#00ffea 0,#00ffff 99px,#00d1ff 280px,#77b7ff 370px,#ff98fe 465px,#ff82e3 485px,#ff6eca 508px,#ff4b9f 562px,#ff2f7d 628px,#ff1861 710px,#ff0044 848px,#ff002e 1033px,#ff001d 1278px)"></i>
<i style="left:2172px;top:834px;width:1275px;background:linear-gradient(90deg,#00ffee 0,#00ffff 83px,#00cdff 279px,#78b3ff 371px,#ff95ff 466px,#ff80e4 486px,#ff6ccb 509px,#ff49a0 563px,#ff2d7e 629px,#ff1762 710px,#ff0045 845px,#ff002f 1030px,#ff001e 1275px)"></i>
<i style="left:2173px;top:837px;width:1271px;background:linear-gradient(90deg,#00fff1 0,#00ffff 67px,#00caff 279px,#77b0ff 371px,#ff91fe 468px,#ff7be2 489px,#ff68ca 512px,#ff47a0 565px,#ff2c7e 631px,#ff1662 712px,#ff0047 841px,#ff0030 1026px,#ff001e 1271px)"></i>
<i style="left:2174px;top:840px;width:1268px;background:linear-gradient(90deg,#00fff4 0,#00ffff 51px,#00c7ff 278px,#7babff 374px,#ff8eff 469px,#ff79e3 490px,#ff66cb 513px,#ff45a2 566px,#ff2b7f 632px,#ff1563 713px,#ff0048 838px,#ff0031 1023px,#ff001f 1268px)"></i>
<i style="left:2175px;top:843px;width:1264px;background:linear-gradient(90deg,#00fff8 0,#00ffff 35px,#00c3ff 278px,#79a9ff 373px,#ff8afe 471px,#ff75e3 492px,#ff63cb 515px,#ff43a2 568px,#ff2980 634px,#ff1464 714px,#ff004a 834px,#ff0032 1018px,#ff0020 1264px)"></i>
<i style="left:2176px;top:846px;width:1261px;background:linear-gradient(90deg,#00fffb 0,#00ffff 18px,#00f5ff 64px,#00c0ff 277px,#7ca5ff 376px,#ff87ff 472px,#ff73e4 493px,#ff61cc 516px,#ff42a3 569px,#ff2881 635px,#ff1365 715px,#ff004b 831px,#ff0033 1015px,#ff0021 1261px)"></i>
<i style="left:2177px;top:849px;width:1257px;background:linear-gradient(90deg,#00ffff 0,#00bdff 276px,#76a3ff 372px,#ff84fe 474px,#ff70e4 495px,#ff5ecc 518px,#ff40a3 571px,#ff2781 637px,#ff1266 717px,#ff004d 827px,#ff0034 1011px,#ff0022 1257px)"></i>
<i style="left:2178px;top:852px;width:1254px;background:linear-gradient(90deg,#00fcff 0,#00baff 276px,#7d9eff 378px,#ff81ff 475px,#ff5ccd 519px,#ff3fa4 572px,#ff2683 637px,#ff1267 717px,#ff004f 824px,#ff0035 1008px,#ff0022 1254px)"></i>
<i style="left:2179px;top:855px;width:1251px;background:linear-gradient(90deg,#00f8ff 0,#00b7ff 275px,#799cff 375px,#ff7dff 477px,#ff5acd 521px,#ff3da5 574px,#ff2583 639px,#ff1168 719px,#ff0050 820px,#ff0036 1004px,#ff0023 1251px)"></i>
<i style="left:2180px;top:858px;width:1247px;background:linear-gradient(90deg,#00f5ff 0,#00b4ff 275px,#7799ff 374px,#ff7afe 479px,#ff57cd 523px,#ff3ba5 576px,#ff2384 641px,#ff1069 720px,#ff0052 817px,#ff0040 933px,#ff0030 1075px,#ff0024 1247px)"></i>
<i style="left:2181px;top:861px;width:1244px;background:linear-gradient(90deg,#00f2ff 0,#00b1ff 274px,#7a96ff 377px,#ff77ff 480px,#ff55ce 524px,#ff39a6 577px,#ff2285 642px,#ff0f69 721px,#ff0054 813px,#ff0040 932px,#ff0031 1073px,#ff0025 1244px)"></i>
<i style="left:2182px;top:864px;width:1240px;background:linear-gradient(90deg,#00efff 0,#00afff 273px,#7594ff 373px,#ff74fe 482px,#ff53ce 526px,#ff38a6 579px,#ff2185 644px,#ff0e6a 722px,#ff0055 810px,#ff0041 932px,#ff0032 1071px,#ff0025 1240px)"></i>
<i style="left:2183px;top:867px;width:1237px;background:linear-gradient(90deg,#00ebff 0,#00acff 273px,#7d8fff 380px,#ff71ff 483px,#ff51cf 527px,#ff36a7 580px,#ff2086 645px,#ff0e6b 723px,#ff0057 806px,#ff0042 932px,#ff0033 1070px,#ff0026 1237px)"></i>
<i style="left:2184px;top:870px;width:1233px;background:linear-gradient(90deg,#00e8ff 0,#00a9ff 272px,#768eff 375px,#ff6efe 485px,#ff4ecf 529px,#ff34a8 582px,#ff1f87 646px,#ff0d6c 724px,#ff0059 803px,#ff0043 931px,#ff0034 1068px,#ff0027 1233px)"></i>
<i style="left:2185px;top:873px;width:1230px;background:linear-gradient(90deg,#00e5ff 0,#00a7ff 272px,#7d8aff 381px,#ff6cff 486px,#ff4dd0 530px,#ff33a9 583px,#ff1e88 647px,#ff0c6d 725px,#ff005a 799px,#ff0044 931px,#ff0034 1067px,#ff0028 1230px)"></i>
<i style="left:2186px;top:876px;width:1226px;background:linear-gradient(90deg,#00e2ff 0,#00a4ff 271px,#7988ff 378px,#ff68fe 488px,#ff4ad0 532px,#ff31a9 585px,#ff1d89 649px,#ff0b6e 726px,#ff005c 796px,#ff0045 930px,#ff0035 1064px,#ff0029 1226px)"></i>
<i style="left:2187px;top:879px;width:1223px;background:linear-gradient(90deg,#00dfff 0,#00a1ff 271px,#7d84ff 382px,#ff66ff 489px,#ff49d1 533px,#ff30aa 586px,#ff1c89 650px,#ff0b6f 727px,#ff005e 792px,#ff0046 930px,#ff0036 1063px,#ff0029 1223px)"></i>
<i style="left:2188px;top:882px;width:1219px;background:linear-gradient(90deg,#00dcff 0,#009fff 270px,#7b82ff 381px,#ff63ff 491px,#ff46d1 535px,#ff2eaa 588px,#ff1a8a 652px,#ff0a6f 728px,#ff0060 789px,#ff0047 929px,#ff0037 1061px,#ff002a 1219px)"></i>
<i style="left:2189px;top:885px;width:1216px;background:linear-gradient(90deg,#00d9ff 0,#009dff 269px,#7581ff 376px,#ff60fe 493px,#ff44d1 537px,#ff2daa 590px,#ff198b 653px,#ff0970 729px,#ff0062 785px,#ff0047 929px,#ff0038 1060px,#ff002b 1216px)"></i>
<i style="left:2190px;top:888px;width:1212px;background:linear-gradient(90deg,#00d7ff 0,#009aff 269px,#7b7dff 382px,#ff5eff 494px,#ff43d1 538px,#ff2cab 591px,#ff188c 654px,#ff0871 730px,#ff0063 782px,#ff0048 928px,#ff0039 1057px,#ff002c 1212px)"></i>
<i style="left:2191px;top:891px;width:1209px;background:linear-gradient(90deg,#00d4ff 0,#0098ff 268px,#777cff 379px,#ff5bfe 496px,#ff41d1 540px,#ff2aac 593px,#ff178c 656px,#ff0872 731px,#ff0065 779px,#ff0049 928px,#ff003a 1056px,#ff002d 1209px)"></i>
<i style="left:2192px;top:894px;width:1205px;background:linear-gradient(90deg,#00d1ff 0,#0096ff 268px,#7c78ff 384px,#ff59ff 497px,#ff3fd2 541px,#ff29ad 594px,#ff168d 657px,#ff0773 731px,#ff0067 775px,#ff004a 927px,#ff003b 1054px,#ff002e 1205px)"></i>
<i style="left:2193px;top:897px;width:1202px;background:linear-gradient(90deg,#00cfff 0,#0094ff 267px,#7977ff 382px,#ff56fe 499px,#ff3dd2 543px,#ff27ad 596px,#ff158d 659px,#ff0673 733px,#ff0069 772px,#ff004b 927px,#ff002e 1202px)"></i>
<i style="left:2194px;top:900px;width:1199px;background:linear-gradient(90deg,#00ccff 0,#0091ff 266px,#7a74ff 383px,#ff54ff 500px,#ff3bd3 544px,#ff26ae 597px,#ff148f 659px,#ff0575 733px,#ff006b 768px,#ff004c 926px,#ff002f 1199px)"></i>
<i style="left:2195px;top:903px;width:1195px;background:linear-gradient(90deg,#00c9ff 0,#008fff 266px,#7972ff 383px,#ff52fe 502px,#ff39d3 546px,#ff25ae 598px,#ff1390 660px,#ff0575 734px,#ff006d 765px,#ff004d 925px,#ff0030 1195px)"></i>
<i style="left:2196px;top:906px;width:1192px;background:linear-gradient(90deg,#00c7ff 0,#008dff 265px,#7b6fff 385px,#ff50ff 503px,#ff37d3 548px,#ff23af 600px,#ff1290 662px,#ff0476 735px,#ff006f 761px,#ff004e 925px,#ff0031 1192px)"></i>
<i style="left:2197px;top:909px;width:1188px;background:linear-gradient(90deg,#00c4ff 0,#008bff 265px,#7b6dff 385px,#ff4dff 505px,#ff36d4 549px,#ff22b0 601px,#ff1191 663px,#ff0377 736px,#ff0061 822px,#ff004f 924px,#ff0032 1188px)"></i>
<i style="left:2198px;top:912px;width:1185px;background:linear-gradient(90deg,#00c2ff 0,#0089ff 264px,#776cff 382px,#ff4bfe 507px,#ff34d4 551px,#ff21b0 603px,#ff1192 664px,#ff0378 737px,#ff0062 823px,#ff004f 924px,#ff0033 1185px)"></i>
<i style="left:2199px;top:915px;width:1181px;background:linear-gradient(90deg,#00bfff 0,#0087ff 264px,#7c69ff 387px,#ff49ff 508px,#ff33d4 552px,#ff20b1 604px,#ff1092 665px,#ff0279 737px,#ff0063 822px,#ff0050 923px,#ff0034 1181px)"></i>
<i style="left:2200px;top:918px;width:1178px;background:linear-gradient(90deg,#00bdff 0,#0085ff 263px,#7968ff 385px,#ff47fe 510px,#ff31d4 554px,#ff1eb1 606px,#ff0f93 667px,#ff017a 738px,#ff0064 822px,#ff0051 922px,#ff0034 1178px)"></i>
<i style="left:2201px;top:921px;width:1174px;background:linear-gradient(90deg,#00bbff 0,#0083ff 262px,#7a65ff 386px,#ff45ff 511px,#ff2fd5 555px,#ff1db2 606px,#ff0e94 667px,#ff017b 738px,#ff0065 822px,#ff0052 921px,#ff0035 1174px)"></i>
<i style="left:2202px;top:924px;width:1171px;background:linear-gradient(90deg,#00b8ff 0,#0081ff 262px,#7964ff 386px,#ff42fe 513px,#ff2ed5 557px,#ff1cb2 608px,#ff0d94 669px,#ff007b 740px,#ff0066 823px,#ff0053 921px,#ff0036 1171px)"></i>
<i style="left:2204px;top:927px;width:1166px;background:linear-gradient(90deg,#00b6ff 0,#007fff 260px,#7c61ff 388px,#ff41ff 513px,#ff2cd6 557px,#ff1bb3 608px,#ff0c96 668px,#ff007c 739px,#ff0067 822px,#ff0054 919px,#ff0037 1166px)"></i>
<i style="left:2205px;top:930px;width:1163px;background:linear-gradient(90deg,#00b4ff 0,#007dff 260px,#7a5fff 387px,#ff3efe 515px,#ff2bd6 559px,#ff1ab3 610px,#ff0b96 670px,#ff007d 740px,#ff0067 822px,#ff0055 918px,#ff0038 1163px)"></i>
<i style="left:2206px;top:933px;width:1159px;background:linear-gradient(90deg,#00b1ff 0,#007cff 259px,#7d5dff 390px,#ff3dff 516px,#ff29d7 560px,#ff19b4 611px,#ff0a97 670px,#ff007e 740px,#ff0068 822px,#ff0056 917px,#ff0039 1159px)"></i>
<i style="left:2207px;top:936px;width:1156px;background:linear-gradient(90deg,#00afff 0,#007aff 258px,#785cff 386px,#ff3bff 518px,#ff28d7 561px,#ff18b5 612px,#ff0a98 671px,#ff007f 741px,#ff0069 822px,#ff0057 917px,#ff003a 1156px)"></i>
<i style="left:2208px;top:939px;width:1152px;background:linear-gradient(90deg,#00adff 0,#0078ff 258px,#7d59ff 391px,#ff39ff 519px,#ff26d7 563px,#ff16b6 613px,#ff0999 672px,#ff0080 741px,#ff006a 821px,#ff0058 915px,#ff003b 1152px)"></i>
<i style="left:2209px;top:942px;width:1149px;background:linear-gradient(90deg,#00abff 0,#0076ff 257px,#7a58ff 389px,#ff37ff 521px,#ff25d8 564px,#ff15b6 615px,#ff0899 674px,#ff0088 718px,#ff0080 742px,#ff006b 822px,#ff0059 915px,#ff003c 1149px)"></i>
<i style="left:2210px;top:945px;width:1145px;background:linear-gradient(90deg,#00a9ff 0,#0075ff 257px,#7957ff 388px,#ff35fe 523px,#ff23d8 566px,#ff14b6 617px,#ff099f 663px,#ff008b 714px,#ff0081 743px,#ff006c 822px,#ff005a 914px,#ff003d 1145px)"></i>
<i style="left:2211px;top:948px;width:1142px;background:linear-gradient(90deg,#00a7ff 0,#0073ff 256px,#7c54ff 392px,#ff33ff 524px,#ff22d9 567px,#ff13b7 617px,#ff008d 711px,#ff0082 743px,#ff006d 822px,#ff005b 913px,#ff003e 1142px)"></i>
<i style="left:2212px;top:951px;width:1139px;background:linear-gradient(90deg,#00a5ff 0,#0071ff 255px,#7754ff 387px,#ff31fe 526px,#ff21d8 569px,#ff12b8 619px,#ff0090 707px,#ff0083 744px,#ff006e 822px,#ff005c 912px,#ff003e 1139px)"></i>
<i style="left:2214px;top:954px;width:1134px;background:linear-gradient(90deg,#00a3ff 0,#0070ff 254px,#7c51ff 392px,#ff30ff 526px,#ff1fd9 569px,#ff11b8 619px,#ff0092 703px,#ff0084 743px,#ff006f 820px,#ff005d 910px,#ff003f 1134px)"></i>
<i style="left:2215px;top:957px;width:1131px;background:linear-gradient(90deg,#00a1ff 0,#006eff 253px,#7950ff 389px,#ff2efe 528px,#ff1ed9 571px,#ff10b9 620px,#ff0094 699px,#ff0085 744px,#ff0070 821px,#ff005e 910px,#ff0040 1131px)"></i>
<i style="left:2216px;top:960px;width:1127px;background:linear-gradient(90deg,#009fff 0,#006dff 253px,#7d4dff 394px,#ff2cff 529px,#ff1dda 572px,#ff0fba 621px,#ff0097 696px,#ff0086 744px,#ff0071 820px,#ff005f 908px,#ff0041 1127px)"></i>
<i style="left:2217px;top:963px;width:1124px;background:linear-gradient(90deg,#009dff 0,#006bff 252px,#7a4cff 391px,#ff2bff 531px,#ff1bda 574px,#ff0eba 623px,#ff0099 692px,#ff0086 745px,#ff0071 821px,#ff005f 908px,#ff0042 1124px)"></i>
<i style="left:2218px;top:966px;width:1120px;background:linear-gradient(90deg,#009bff 0,#0069ff 252px,#7d4aff 395px,#ff29ff 532px,#ff1ada 575px,#ff0dbb 624px,#ff009c 689px,#ff0087 745px,#ff0073 820px,#ff0061 906px,#ff0043 1120px)"></i>
<i style="left:2219px;top:969px;width:1117px;background:linear-gradient(90deg,#0099ff 0,#0068ff 251px,#7b49ff 393px,#ff27ff 534px,#ff19db 576px,#ff0cbb 625px,#ff009e 686px,#ff0088 746px,#ff0074 820px,#ff0061 906px,#ff0044 1117px)"></i>
<i style="left:2220px;top:972px;width:1113px;background:linear-gradient(90deg,#0097ff 0,#0067ff 250px,#7748ff 389px,#ff26fe 536px,#ff17db 578px,#ff0bbb 627px,#ff00a1 682px,#ff0089 747px,#ff0074 821px,#ff0062 905px,#ff0045 1113px)"></i>
<i style="left:2222px;top:975px;width:1109px;background:linear-gradient(90deg,#0095ff 0,#0065ff 249px,#7c46ff 394px,#ff24ff 536px,#ff16db 578px,#ff0abc 627px,#ff00a3 678px,#ff008a 746px,#ff0075 819px,#ff0063 903px,#ff0046 1109px)"></i>
<i style="left:2223px;top:978px;width:1105px;background:linear-gradient(90deg,#0094ff 0,#0064ff 248px,#7945ff 391px,#ff23fe 538px,#ff15db 580px,#ff09bd 628px,#ff00a6 674px,#ff008b 747px,#ff0076 819px,#ff0064 902px,#ff0047 1105px)"></i>
<i style="left:2224px;top:981px;width:1102px;background:linear-gradient(90deg,#0092ff 0,#0062ff 248px,#7d43ff 396px,#ff21ff 539px,#ff14dc 581px,#ff08be 629px,#ff00a9 671px,#ff008c 747px,#ff0077 819px,#ff0065 901px,#ff0048 1102px)"></i>
<i style="left:2225px;top:984px;width:1098px;background:linear-gradient(90deg,#0090ff 0,#0061ff 247px,#7a42ff 394px,#ff20fe 541px,#ff12dc 583px,#ff07be 630px,#ff00ab 667px,#ff008c 747px,#ff0078 818px,#ff0067 899px,#ff0049 1098px)"></i>
<i style="left:2226px;top:987px;width:1095px;background:linear-gradient(90deg,#008eff 0,#0060ff 246px,#7b40ff 395px,#ff1eff 542px,#ff11dd 584px,#ff06bf 631px,#ff00ae 664px,#ff008d 747px,#ff0068 898px,#ff004a 1095px)"></i>
<i style="left:2227px;top:990px;width:1091px;background:linear-gradient(90deg,#008dff 0,#005eff 246px,#7a3fff 395px,#ff1dff 544px,#ff10dc 586px,#ff05bf 633px,#ff00b1 660px,#ff008e 748px,#ff0069 897px,#ff004b 1091px)"></i>
<i style="left:2229px;top:993px;width:1087px;background:linear-gradient(90deg,#008bff 0,#005dff 244px,#7c3dff 396px,#ff1bff 544px,#ff0fdd 586px,#ff04c0 633px,#ff00b4 656px,#ff008f 747px,#ff006a 895px,#ff004c 1087px)"></i>
<i style="left:2230px;top:996px;width:1084px;background:linear-gradient(90deg,#0089ff 0,#005bff 244px,#7b3cff 396px,#ff1aff 546px,#ff0ede 587px,#ff03c0 634px,#ff00a7 687px,#ff0090 748px,#ff006a 895px,#ff004d 1084px)"></i>
<i style="left:2231px;top:999px;width:1080px;background:linear-gradient(90deg,#0088ff 0,#005aff 243px,#7d3aff 398px,#ff19ff 547px,#ff0dde 589px,#ff03c1 635px,#ff00a7 688px,#ff0091 748px,#ff006c 893px,#ff004f 1080px)"></i>
<i style="left:2232px;top:1002px;width:1077px;background:linear-gradient(90deg,#0086ff 0,#0059ff 243px,#7c39ff 398px,#ff17ff 549px,#ff0cde 590px,#ff02c2 636px,#ff00a8 688px,#ff0092 748px,#ff006d 892px,#ff0050 1077px)"></i>
<i style="left:2233px;top:1005px;width:1073px;background:linear-gradient(90deg,#0084ff 0,#0058ff 242px,#7938ff 395px,#ff16fe 551px,#ff0ade 592px,#ff01c2 638px,#ff00a9 690px,#ff0092 749px,#ff006e 891px,#ff0051 1073px)"></i>
<i style="left:2235px;top:1008px;width:1069px;background:linear-gradient(90deg,#0083ff 0,#0057ff 240px,#7b37ff 397px,#ff14ff 551px,#ff0adf 591px,#ff00c3 637px,#ff00aa 689px,#ff0093 748px,#ff006f 889px,#ff0052 1069px)"></i>
<i style="left:2236px;top:1011px;width:1065px;background:linear-gradient(90deg,#0081ff 0,#0055ff 240px,#7a36ff 396px,#ff13fe 553px,#ff08df 593px,#ff00c3 639px,#ff00aa 690px,#ff0094 748px,#ff0070 887px,#ff0053 1065px)"></i>
<i style="left:2237px;top:1014px;width:1062px;background:linear-gradient(90deg,#0080ff 0,#0054ff 239px,#7c34ff 399px,#ff12ff 554px,#ff08e0 594px,#ff00c4 639px,#ff00ab 690px,#ff0095 748px,#ff0071 886px,#ff0054 1062px)"></i>
<i style="left:2238px;top:1017px;width:1058px;background:linear-gradient(90deg,#007eff 0,#0053ff 239px,#7b33ff 398px,#ff10ff 556px,#ff06e0 596px,#ff00c4 641px,#ff00ac 692px,#ff0096 749px,#ff0072 885px,#ff0055 1058px)"></i>
<i style="left:2240px;top:1020px;width:1054px;background:linear-gradient(90deg,#007dff 0,#0052ff 237px,#7d31ff 400px,#ff0fff 556px,#ff05e0 596px,#ff00c5 641px,#ff00ad 691px,#ff0097 748px,#ff0073 883px,#ff0056 1054px)"></i>
<i style="left:2241px;top:1023px;width:1050px;background:linear-gradient(90deg,#007bff 0,#0051ff 236px,#7931ff 396px,#ff0eff 558px,#ff00d3 618px,#ff00c5 642px,#ff00ad 692px,#ff0098 748px,#ff0074 882px,#ff0057 1050px)"></i>
<i style="left:2242px;top:1026px;width:1047px;background:linear-gradient(90deg,#007aff 0,#004fff 236px,#7d2fff 401px,#ff0dff 559px,#ff00d6 615px,#ff00c6 643px,#ff00ae 692px,#ff0099 748px,#ff0075 880px,#ff0058 1047px)"></i>
<i style="left:2243px;top:1029px;width:1043px;background:linear-gradient(90deg,#0078ff 0,#004eff 235px,#7b2eff 399px,#ff0bff 561px,#ff00d9 612px,#ff00c7 644px,#ff00af 693px,#ff009a 748px,#ff0076 879px,#ff005a 1043px)"></i>
<i style="left:2245px;top:1032px;width:1039px;background:linear-gradient(90deg,#0077ff 0,#004dff 234px,#7a2dff 397px,#ff0afe 562px,#ff00dd 607px,#ff00c7 645px,#ff009a 748px,#ff0077 877px,#ff005b 1039px)"></i>
<i style="left:2246px;top:1035px;width:1035px;background:linear-gradient(90deg,#0075ff 0,#004cff 233px,#7c2cff 400px,#ff09ff 563px,#ff00e0 604px,#ff00c8 645px,#ff009c 747px,#ff0078 875px,#ff005c 1035px)"></i>
<i style="left:2247px;top:1038px;width:1032px;background:linear-gradient(90deg,#0074ff 0,#004bff 232px,#782bff 396px,#ff08ff 565px,#ff00e4 600px,#ff00c8 647px,#ff009c 748px,#ff0079 874px,#ff005d 1032px)"></i>
<i style="left:2249px;top:1041px;width:1028px;background:linear-gradient(90deg,#0072ff 0,#004aff 231px,#7d29ff 401px,#ff07ff 565px,#ff00e7 596px,#ff00c9 646px,#ff009d 747px,#ff007a 872px,#ff005e 1028px)"></i>
<i style="left:2250px;top:1044px;width:1024px;background:linear-gradient(90deg,#0071ff 0,#0049ff 230px,#7a29ff 398px,#ff06ff 567px,#ff00eb 593px,#ff00c9 647px,#ff009e 747px,#ff007b 871px,#ff005f 1024px)"></i>
<i style="left:2251px;top:1047px;width:1021px;background:linear-gradient(90deg,#0070ff 0,#0048ff 230px,#7d27ff 403px,#ff05ff 568px,#ff00ef 589px,#ff00ca 648px,#ff009f 747px,#ff007d 869px,#ff0060 1021px)"></i>
<i style="left:2253px;top:1050px;width:1016px;background:linear-gradient(90deg,#006eff 0,#0047ff 228px,#7b26ff 400px,#ff03ff 569px,#ff00e4 606px,#ff00cb 648px,#ff00a0 746px,#ff007e 867px,#ff0062 1016px)"></i>
<i style="left:2254px;top:1053px;width:1013px;background:linear-gradient(90deg,#006dff 0,#0046ff 228px,#7d25ff 403px,#ff02ff 570px,#ff00e3 608px,#ff00cb 649px,#ff00a1 746px,#ff007f 866px,#ff0063 1013px)"></i>
<i style="left:2255px;top:1056px;width:1009px;background:linear-gradient(90deg,#006cff 0,#0045ff 227px,#7b24ff 401px,#ff01ff 572px,#ff00e4 609px,#ff00cc 650px,#ff00a2 746px,#ff0080 864px,#ff0064 1009px)"></i>
<i style="left:2257px;top:1059px;width:1005px;background:linear-gradient(90deg,#006aff 0,#0044ff 225px,#7c23ff 401px,#ff00ff 572px,#ff00e4 610px,#ff00cc 651px,#ff00a3 746px,#ff0081 862px,#ff0065 1005px)"></i>
<i style="left:2258px;top:1062px;width:1001px;background:linear-gradient(90deg,#0069ff 0,#0043ff 225px,#7c22ff 402px,#ff00ff 574px,#ff00cd 651px,#ff00a4 745px,#ff0082 860px,#ff0066 1001px)"></i>
<i style="left:2259px;top:1065px;width:998px;background:linear-gradient(90deg,#0068ff 0,#0042ff 224px,#7a22ff 399px,#ff00ff 576px,#ff00cd 653px,#ff00a4 746px,#ff0083 860px,#ff0068 998px)"></i>
<i style="left:2261px;top:1068px;width:993px;background:linear-gradient(90deg,#0066ff 0,#0041ff 223px,#7d20ff 403px,#f300ff 561px,#ff00ff 576px,#ff00ce 652px,#ff00a6 744px,#ff0084 856px,#ff0069 993px)"></i>
<i style="left:2262px;top:1071px;width:990px;background:linear-gradient(90deg,#0065ff 0,#0040ff 222px,#7a1fff 400px,#f000ff 558px,#ff00ff 578px,#ff00ce 653px,#ff00a6 745px,#ff0085 856px,#ff006a 990px)"></i>
<i style="left:2263px;top:1074px;width:986px;background:linear-gradient(90deg,#0064ff 0,#003fff 221px,#7b1eff 402px,#ec00ff 554px,#ff00ff 579px,#ff00cf 654px,#ff00a8 744px,#ff0087 854px,#ff006b 986px)"></i>
<i style="left:2265px;top:1077px;width:982px;background:linear-gradient(90deg,#0063ff 0,#003eff 220px,#7220ff 388px,#e800ff 550px,#ff00ff 580px,#ff00d0 654px,#ff00a8 744px,#ff0088 852px,#ff006d 982px)"></i>
<i style="left:2266px;top:1080px;width:978px;background:linear-gradient(90deg,#0061ff 0,#003dff 219px,#701fff 385px,#e400ff 546px,#ff00ff 581px,#ff00d0 655px,#ff00a9 743px,#ff0089 850px,#ff006e 978px)"></i>
<i style="left:2267px;top:1083px;width:975px;background:linear-gradient(90deg,#0060ff 0,#003cff 219px,#6f1fff 384px,#e100ff 543px,#ff00ff 583px,#ff00d1 656px,#ff00aa 744px,#ff008a 849px,#ff006f 975px)"></i>
<i style="left:2269px;top:1086px;width:970px;background:linear-gradient(90deg,#005fff 0,#003bff 217px,#6c1eff 380px,#dd00ff 538px,#ff00ff 583px,#ff00d1 656px,#ff00ab 742px,#ff008b 846px,#ff0071 970px)"></i>
<i style="left:2270px;top:1089px;width:967px;background:linear-gradient(90deg,#005eff 0,#003aff 217px,#6b1eff 379px,#da00ff 535px,#ff00ff 585px,#ff00d2 657px,#ff00ac 742px,#ff008c 845px,#ff0072 967px)"></i>
<i style="left:2271px;top:1092px;width:964px;background:linear-gradient(90deg,#005dff 0,#003aff 216px,#691dff 376px,#d600ff 531px,#ff00ff 586px,#ff00d2 658px,#ff00ad 743px,#ff008d 844px,#ff0073 964px)"></i>
<i style="left:2273px;top:1095px;width:959px;background:linear-gradient(90deg,#005cff 0,#0039ff 214px,#671dff 372px,#d300ff 527px,#ff00ff 587px,#ff00d3 657px,#ff00ae 741px,#ff008f 841px,#ff0075 959px)"></i>
<i style="left:2274px;top:1098px;width:956px;background:linear-gradient(90deg,#005aff 0,#0038ff 214px,#661dff 371px,#cf00ff 523px,#ff00ff 589px,#ff00d3 659px,#ff00ae 742px,#ff0090 840px,#ff0076 956px)"></i>
<i style="left:2276px;top:1101px;width:951px;background:linear-gradient(90deg,#0059ff 0,#0037ff 212px,#641cff 368px,#cc00ff 519px,#ff00ff 589px,#ff00d4 658px,#ff00b0 740px,#ff0091 837px,#ff0077 951px)"></i>
<i style="left:2277px;top:1104px;width:948px;background:linear-gradient(90deg,#0058ff 0,#0036ff 212px,#631cff 366px,#c900ff 515px,#ff00ff 591px,#ff00d5 659px,#ff00b1 740px,#ff0092 835px,#ff0078 948px)"></i>
<i style="left:2279px;top:1107px;width:943px;background:linear-gradient(90deg,#0057ff 0,#0035ff 210px,#611bff 363px,#c600ff 511px,#ff00ff 591px,#ff00d5 659px,#ff00b2 739px,#ff0093 833px,#ff007a 943px)"></i>
<i style="left:2280px;top:1110px;width:940px;background:linear-gradient(90deg,#0056ff 0,#0035ff 209px,#5f1bff 359px,#c200ff 507px,#ff00ff 593px,#ff00d6 660px,#ff00b2 739px,#ff0095 831px,#ff007b 940px)"></i>
<i style="left:2281px;top:1113px;width:936px;background:linear-gradient(90deg,#0055ff 0,#0034ff 209px,#5e1aff 359px,#bf00ff 504px,#ff00ff 594px,#ff00d6 661px,#ff00b4 738px,#ff0096 829px,#ff007d 936px)"></i>
<i style="left:2283px;top:1116px;width:932px;background:linear-gradient(90deg,#0054ff 0,#0033ff 207px,#5c1aff 355px,#bc00ff 499px,#ff00ff 595px,#ff00d7 660px,#ff00b5 737px,#ff0097 827px,#ff007e 932px)"></i>
<i style="left:2284px;top:1119px;width:928px;background:linear-gradient(90deg,#0053ff 0,#0032ff 207px,#5c19ff 354px,#b900ff 496px,#ff00ff 596px,#ff00d7 662px,#ff00b5 737px,#ff0099 825px,#ff0080 928px)"></i>
<i style="left:2286px;top:1122px;width:924px;background:linear-gradient(90deg,#0051ff 0,#0032ff 205px,#5919ff 350px,#b600ff 491px,#ff00ff 597px,#ff00d8 661px,#ff00b6 736px,#ff009a 823px,#ff0081 924px)"></i>
<i style="left:2287px;top:1125px;width:920px;background:linear-gradient(90deg,#0051ff 0,#0031ff 204px,#5719ff 346px,#b300ff 488px,#ff00ff 599px,#ff00d8 662px,#ff00b7 736px,#ff009b 821px,#ff0082 920px)"></i>
<i style="left:2289px;top:1128px;width:916px;background:linear-gradient(90deg,#004fff 0,#0030ff 203px,#5718ff 346px,#b100ff 484px,#ff00ff 599px,#ff00d9 662px,#ff00b9 734px,#ff009c 818px,#ff0084 916px)"></i>
<i style="left:2290px;top:1131px;width:912px;background:linear-gradient(90deg,#004eff 0,#002fff 202px,#5518ff 342px,#ad00ff 480px,#ff00ff 601px,#ff00d9 663px,#ff00b9 734px,#ff009d 817px,#ff0085 912px)"></i>
<i style="left:2291px;top:1134px;width:909px;background:linear-gradient(90deg,#004dff 0,#002eff 202px,#ab00ff 477px,#ff00ff 602px,#ff00da 664px,#ff00ba 734px,#ff009f 815px,#ff0087 909px)"></i>
<i style="left:2293px;top:1137px;width:905px;background:linear-gradient(90deg,#004cff 0,#002eff 200px,#a800ff 472px,#ff00ff 603px,#ff00db 663px,#ff00bb 733px,#ff00a0 813px,#ff0088 905px)"></i>
<i style="left:2294px;top:1140px;width:901px;background:linear-gradient(90deg,#004bff 0,#002dff 200px,#a500ff 469px,#ff00ff 604px,#ff00db 664px,#ff00bc 732px,#ff00a1 811px,#ff008a 901px)"></i>
<i style="left:2296px;top:1143px;width:897px;background:linear-gradient(90deg,#004aff 0,#002cff 198px,#a200ff 464px,#ff00ff 605px,#ff00dc 664px,#ff00bd 731px,#ff00a3 808px,#ff008b 897px)"></i>
<i style="left:2297px;top:1146px;width:893px;background:linear-gradient(90deg,#0049ff 0,#002cff 197px,#a000ff 461px,#ff00ff 606px,#ff00dc 665px,#ff00be 731px,#ff00a4 807px,#ff008d 893px)"></i>
<i style="left:2299px;top:1149px;width:889px;background:linear-gradient(90deg,#0048ff 0,#002bff 196px,#9c00ff 456px,#ff00ff 607px,#ff00dd 664px,#ff00bf 730px,#ff00a5 804px,#ff008e 889px)"></i>
<i style="left:2300px;top:1152px;width:885px;background:linear-gradient(90deg,#0047ff 0,#002aff 195px,#9a00ff 453px,#ff00ff 608px,#ff00dd 666px,#ff00c0 729px,#ff00a7 802px,#ff0090 885px)"></i>
<i style="left:2302px;top:1155px;width:881px;background:linear-gradient(90deg,#0046ff 0,#0029ff 194px,#9700ff 448px,#ff00ff 609px,#ff00de 665px,#ff00c1 728px,#ff00a8 800px,#ff0091 881px)"></i>
<i style="left:2303px;top:1158px;width:877px;background:linear-gradient(90deg,#0046ff 0,#0029ff 193px,#9500ff 445px,#ff00ff 611px,#ff00de 666px,#ff00c2 728px,#ff00a9 798px,#ff0093 877px)"></i>
<i style="left:2305px;top:1161px;width:873px;background:linear-gradient(90deg,#0044ff 0,#0028ff 191px,#9200ff 440px,#ff00ff 611px,#ff00df 665px,#ff00c3 726px,#ff00ab 795px,#ff0094 873px)"></i>
<i style="left:2306px;top:1164px;width:869px;background:linear-gradient(90deg,#0044ff 0,#0027ff 191px,#9000ff 437px,#ff00ff 613px,#ff00e0 666px,#ff00c4 726px,#ff00ac 793px,#ff0096 869px)"></i>
<i style="left:2308px;top:1167px;width:865px;background:linear-gradient(90deg,#0043ff 0,#0027ff 189px,#8d00ff 432px,#ff00ff 613px,#ff00e0 666px,#ff00c5 725px,#ff00ad 791px,#ff0098 865px)"></i>
<i style="left:2309px;top:1170px;width:861px;background:linear-gradient(90deg,#0042ff 0,#0026ff 189px,#8b00ff 429px,#ff00ff 615px,#ff00e1 666px,#ff00c6 724px,#ff00af 789px,#ff0099 861px)"></i>
<i style="left:2311px;top:1173px;width:857px;background:linear-gradient(90deg,#0041ff 0,#0026ff 187px,#8800ff 424px,#ff00ff 615px,#ff00e1 667px,#ff00c7 723px,#ff009b 857px)"></i>
<i style="left:2312px;top:1176px;width:853px;background:linear-gradient(90deg,#0040ff 0,#0025ff 187px,#8600ff 421px,#ff00ff 617px,#ff00e2 667px,#ff00c9 722px,#ff009d 853px)"></i>
<i style="left:2314px;top:1179px;width:849px;background:linear-gradient(90deg,#003fff 0,#0024ff 185px,#8300ff 416px,#ff00ff 617px,#ff00e2 667px,#ff00c9 721px,#ff009e 849px)"></i>
<i style="left:2315px;top:1182px;width:846px;background:linear-gradient(90deg,#003eff 0,#0024ff 184px,#8100ff 413px,#ff00ff 619px,#ff00e3 667px,#ff00ca 721px,#ff00a0 846px)"></i>
<i style="left:2317px;top:1185px;width:841px;background:linear-gradient(90deg,#003dff 0,#0023ff 183px,#7e00ff 408px,#ff00ff 619px,#ff00e3 668px,#ff00cb 720px,#ff00a2 841px)"></i>
<i style="left:2318px;top:1188px;width:838px;background:linear-gradient(90deg,#003cff 0,#0022ff 182px,#7c00ff 405px,#ff00ff 621px,#ff00e4 668px,#ff00cc 719px,#ff00a3 838px)"></i>
<i style="left:2320px;top:1191px;width:833px;background:linear-gradient(90deg,#003bff 0,#0022ff 181px,#7a00ff 400px,#ff00ff 621px,#ff00cd 718px,#ff00a5 833px)"></i>
<i style="left:2321px;top:1194px;width:830px;background:linear-gradient(90deg,#003bff 0,#0021ff 180px,#7800ff 397px,#ff00ff 623px,#ff00cf 717px,#ff00a7 830px)"></i>
<i style="left:2323px;top:1197px;width:825px;background:linear-gradient(90deg,#003aff 0,#0021ff 178px,#7500ff 392px,#ff00ff 623px,#ff00cf 716px,#ff00a9 825px)"></i>
<i style="left:2324px;top:1200px;width:822px;background:linear-gradient(90deg,#0039ff 0,#0020ff 178px,#7300ff 389px,#ff00ff 625px,#ff00d1 715px,#ff00aa 822px)"></i>
<i style="left:2326px;top:1203px;width:817px;background:linear-gradient(90deg,#0038ff 0,#001fff 176px,#7100ff 385px,#ff00ff 625px,#ff00d2 714px,#ff00ac 817px)"></i>
<i style="left:2327px;top:1206px;width:814px;background:linear-gradient(90deg,#0037ff 0,#001fff 176px,#6f00ff 381px,#ff00ff 627px,#ff00d3 713px,#ff00ae 814px)"></i>
<i style="left:2329px;top:1209px;width:809px;background:linear-gradient(90deg,#0036ff 0,#001eff 174px,#6d00ff 377px,#ff00ff 628px,#ff00d4 711px,#ff00b0 809px)"></i>
<i style="left:2330px;top:1212px;width:806px;background:linear-gradient(90deg,#0036ff 0,#001eff 174px,#6a00ff 373px,#ff00ff 629px,#ff00d5 711px,#ff00b2 806px)"></i>
<i style="left:2332px;top:1215px;width:801px;background:linear-gradient(90deg,#0035ff 0,#001dff 172px,#6900ff 369px,#ff00ff 630px,#ff00d6 709px,#ff00b4 801px)"></i>
<i style="left:2333px;top:1218px;width:798px;background:linear-gradient(90deg,#0034ff 0,#001dff 171px,#6600ff 365px,#ff00ff 631px,#ff00d7 709px,#ff00b5 798px)"></i>
<i style="left:2335px;top:1221px;width:793px;background:linear-gradient(90deg,#0033ff 0,#001cff 170px,#6400ff 361px,#ff00ff 632px,#ff00d8 707px,#ff00b7 793px)"></i>
<i style="left:2336px;top:1224px;width:790px;background:linear-gradient(90deg,#0033ff 0,#001bff 169px,#6200ff 357px,#ff00ff 633px,#ff00d9 707px,#ff00b9 790px)"></i>
<i style="left:2338px;top:1227px;width:785px;background:linear-gradient(90deg,#0032ff 0,#001bff 168px,#6000ff 353px,#ff00ff 634px,#ff00db 705px,#ff00bb 785px)"></i>
<i style="left:2339px;top:1230px;width:782px;background:linear-gradient(90deg,#0031ff 0,#001aff 167px,#5e00ff 349px,#ff00ff 636px,#ff00dc 704px,#ff00bd 782px)"></i>
<i style="left:2341px;top:1233px;width:778px;background:linear-gradient(90deg,#0030ff 0,#001aff 165px,#5c00ff 345px,#ff00ff 636px,#ff00dd 703px,#ff00bf 778px)"></i>
<i style="left:2342px;top:1236px;width:774px;background:linear-gradient(90deg,#002fff 0,#0019ff 165px,#5a00ff 341px,#ff00ff 638px,#ff00de 702px,#ff00c1 774px)"></i>
<i style="left:2344px;top:1239px;width:770px;background:linear-gradient(90deg,#002fff 0,#0019ff 163px,#5800ff 337px,#ff00ff 638px,#ff00df 701px,#ff00c3 770px)"></i>
<i style="left:2346px;top:1242px;width:765px;background:linear-gradient(90deg,#002eff 0,#0018ff 162px,#5600ff 332px,#ff00ff 639px,#ff00e1 698px,#ff00c5 765px)"></i>
<i style="left:2347px;top:1245px;width:762px;background:linear-gradient(90deg,#002dff 0,#0018ff 161px,#5500ff 329px,#ff00ff 640px,#ff00e1 699px,#ff00c7 762px)"></i>
<i style="left:2349px;top:1248px;width:757px;background:linear-gradient(90deg,#002cff 0,#0017ff 159px,#5200ff 324px,#ff00ff 641px,#ff00e3 696px,#ff00c9 757px)"></i>
<i style="left:2350px;top:1251px;width:754px;background:linear-gradient(90deg,#002cff 0,#0017ff 159px,#5100ff 321px,#ff00ff 642px,#ff00e3 697px,#ff00cb 754px)"></i>
<i style="left:2352px;top:1254px;width:749px;background:linear-gradient(90deg,#002bff 0,#0016ff 157px,#4f00ff 316px,#a600ff 482px,#ff00ff 643px,#ff00cd 749px)"></i>
<i style="left:2353px;top:1257px;width:746px;background:linear-gradient(90deg,#002aff 0,#0016ff 157px,#4d00ff 313px,#a500ff 481px,#ff00ff 644px,#ff00cf 746px)"></i>
<i style="left:2355px;top:1260px;width:741px;background:linear-gradient(90deg,#0029ff 0,#0015ff 155px,#4b00ff 308px,#a400ff 479px,#ff00ff 645px,#ff00d2 741px)"></i>
<i style="left:2357px;top:1263px;width:737px;background:linear-gradient(90deg,#0029ff 0,#0015ff 153px,#4a00ff 304px,#a200ff 476px,#ff00ff 646px,#ff00d4 737px)"></i>
<i style="left:2358px;top:1266px;width:733px;background:linear-gradient(90deg,#0028ff 0,#0014ff 153px,#4800ff 300px,#a200ff 476px,#ff00ff 647px,#ff00d6 733px)"></i>
<i style="left:2360px;top:1269px;width:729px;background:linear-gradient(90deg,#0027ff 0,#0014ff 151px,#4600ff 296px,#a100ff 474px,#ff00ff 648px,#ff00d8 729px)"></i>
<i style="left:2361px;top:1272px;width:725px;background:linear-gradient(90deg,#0027ff 0,#0013ff 151px,#4400ff 292px,#a000ff 473px,#ff00ff 649px,#ff00db 725px)"></i>
<i style="left:2363px;top:1275px;width:721px;background:linear-gradient(90deg,#0026ff 0,#0013ff 149px,#4300ff 288px,#9f00ff 472px,#ff00ff 650px,#ff00dd 721px)"></i>
<i style="left:2365px;top:1278px;width:717px;background:linear-gradient(90deg,#0025ff 0,#0012ff 148px,#4100ff 284px,#9f00ff 470px,#ff00ff 650px,#ff00df 717px)"></i>
<i style="left:2366px;top:1281px;width:713px;background:linear-gradient(90deg,#0025ff 0,#0012ff 147px,#3f00ff 280px,#9e00ff 469px,#ff00ff 652px,#ff00e1 713px)"></i>
<i style="left:2368px;top:1284px;width:709px;background:linear-gradient(90deg,#0024ff 0,#0011ff 145px,#3e00ff 276px,#9d00ff 467px,#ff00ff 652px,#ff00e3 709px)"></i>
<i style="left:2370px;top:1287px;width:704px;background:linear-gradient(90deg,#0023ff 0,#0011ff 144px,#3c00ff 271px,#9c00ff 465px,#ff00ff 653px,#ff00e6 704px)"></i>
<i style="left:2371px;top:1290px;width:701px;background:linear-gradient(90deg,#0023ff 0,#0010ff 143px,#3a00ff 268px,#9b00ff 464px,#ff00ff 654px,#ff00e8 701px)"></i>
<i style="left:2373px;top:1293px;width:696px;background:linear-gradient(90deg,#0022ff 0,#0010ff 142px,#3900ff 263px,#9a00ff 462px,#ff00ff 655px,#ff00eb 696px)"></i>
<i style="left:2374px;top:1296px;width:693px;background:linear-gradient(90deg,#0021ff 0,#0010ff 141px,#3700ff 260px,#9900ff 461px,#ff00ff 656px,#ff00ed 693px)"></i>
<i style="left:2376px;top:1299px;width:688px;background:linear-gradient(90deg,#0021ff 0,#000fff 139px,#3500ff 255px,#9800ff 459px,#ff00ff 657px,#ff00f0 688px)"></i>
<i style="left:2378px;top:1302px;width:684px;background:linear-gradient(90deg,#0020ff 0,#000fff 138px,#3400ff 251px,#9800ff 458px,#ff00ff 658px,#ff00f2 684px)"></i>
<i style="left:2379px;top:1305px;width:680px;background:linear-gradient(90deg,#001fff 0,#000eff 137px,#3200ff 247px,#9700ff 456px,#ff00ff 659px,#ff00f5 680px)"></i>
<i style="left:2381px;top:1308px;width:676px;background:linear-gradient(90deg,#001fff 0,#000eff 136px,#3100ff 243px,#9600ff 455px,#ff00ff 660px,#ff00f7 676px)"></i>
<i style="left:2383px;top:1311px;width:671px;background:linear-gradient(90deg,#001eff 0,#000dff 134px,#2f00ff 238px,#9500ff 453px,#ff00ff 660px,#ff00fa 671px)"></i>
<i style="left:2384px;top:1314px;width:668px;background:linear-gradient(90deg,#001dff 0,#000dff 134px,#2e00ff 235px,#9500ff 452px,#ff00ff 662px,#ff00fc 668px)"></i>
<i style="left:2386px;top:1317px;width:663px;background:linear-gradient(90deg,#001dff 0,#000cff 132px,#2c00ff 230px,#9300ff 449px,#ff00ff 663px)"></i>
<i style="left:2388px;top:1320px;width:659px;background:linear-gradient(90deg,#001cff 0,#000cff 130px,#2b00ff 226px,#9200ff 446px,#fd00ff 659px)"></i>
<i style="left:2389px;top:1323px;width:656px;background:linear-gradient(90deg,#001cff 0,#000cff 130px,#2900ff 222px,#9000ff 443px,#fa00ff 656px)"></i>
<i style="left:2391px;top:1326px;width:651px;background:linear-gradient(90deg,#001bff 0,#000bff 128px,#2800ff 218px,#8e00ff 438px,#f800ff 651px)"></i>
<i style="left:2393px;top:1329px;width:647px;background:linear-gradient(90deg,#001aff 0,#000bff 127px,#2600ff 213px,#8c00ff 434px,#f500ff 647px)"></i>
<i style="left:2395px;top:1332px;width:642px;background:linear-gradient(90deg,#001aff 0,#000aff 125px,#2500ff 209px,#8a00ff 429px,#f200ff 642px)"></i>
<i style="left:2396px;top:1335px;width:639px;background:linear-gradient(90deg,#0019ff 0,#000aff 124px,#2300ff 205px,#8800ff 426px,#f000ff 639px)"></i>
<i style="left:2398px;top:1338px;width:634px;background:linear-gradient(90deg,#0018ff 0,#000aff 123px,#2200ff 201px,#8600ff 421px,#ee00ff 634px)"></i>
<i style="left:2400px;top:1341px;width:630px;background:linear-gradient(90deg,#0018ff 0,#0009ff 121px,#2000ff 196px,#8400ff 417px,#eb00ff 630px)"></i>
<i style="left:2401px;top:1344px;width:626px;background:linear-gradient(90deg,#0017ff 0,#0009ff 121px,#1f00ff 193px,#8200ff 413px,#e900ff 626px)"></i>
<i style="left:2403px;top:1347px;width:622px;background:linear-gradient(90deg,#0017ff 0,#0008ff 119px,#1e00ff 188px,#8100ff 409px,#e600ff 622px)"></i>
<i style="left:2405px;top:1350px;width:617px;background:linear-gradient(90deg,#0016ff 0,#0008ff 118px,#1d00ff 184px,#7f00ff 404px,#e400ff 617px)"></i>
<i style="left:2407px;top:1353px;width:613px;background:linear-gradient(90deg,#0015ff 0,#0008ff 116px,#1b00ff 179px,#7d00ff 400px,#e200ff 613px)"></i>
<i style="left:2408px;top:1356px;width:609px;background:linear-gradient(90deg,#0015ff 0,#0007ff 115px,#1a00ff 176px,#7b00ff 396px,#df00ff 609px)"></i>
<i style="left:2410px;top:1359px;width:605px;background:linear-gradient(90deg,#0014ff 0,#0007ff 114px,#1800ff 171px,#7900ff 392px,#dd00ff 605px)"></i>
<i style="left:2412px;top:1362px;width:600px;background:linear-gradient(90deg,#0014ff 0,#0007ff 112px,#1700ff 167px,#7700ff 387px,#da00ff 600px)"></i>
<i style="left:2414px;top:1365px;width:596px;background:linear-gradient(90deg,#0013ff 0,#0006ff 111px,#1600ff 162px,#7500ff 382px,#d800ff 596px)"></i>
<i style="left:2416px;top:1368px;width:591px;background:linear-gradient(90deg,#0013ff 0,#0006ff 109px,#1500ff 158px,#7400ff 378px,#d600ff 591px)"></i>
<i style="left:2417px;top:1371px;width:588px;background:linear-gradient(90deg,#0012ff 0,#0005ff 108px,#1300ff 155px,#7200ff 375px,#d400ff 588px)"></i>
<i style="left:2419px;top:1374px;width:584px;background:linear-gradient(90deg,#0011ff 0,#0005ff 107px,#1200ff 150px,#7000ff 370px,#d200ff 584px)"></i>
<i style="left:2421px;top:1377px;width:579px;background:linear-gradient(90deg,#0011ff 0,#0005ff 105px,#1100ff 146px,#6f00ff 366px,#cf00ff 579px)"></i>
<i style="left:2423px;top:1380px;width:575px;background:linear-gradient(90deg,#0010ff 0,#0004ff 104px,#0f00ff 141px,#6d00ff 361px,#ce00ff 575px)"></i>
<i style="left:2425px;top:1383px;width:570px;background:linear-gradient(90deg,#0010ff 0,#0004ff 102px,#0e00ff 137px,#6b00ff 357px,#cb00ff 570px)"></i>
<i style="left:2426px;top:1386px;width:567px;background:linear-gradient(90deg,#000fff 0,#0004ff 101px,#0d00ff 133px,#6900ff 353px,#c900ff 567px)"></i>
<i style="left:2428px;top:1389px;width:562px;background:linear-gradient(90deg,#000fff 0,#0003ff 100px,#0c00ff 129px,#6200ff 335px,#c700ff 562px)"></i>
<i style="left:2430px;top:1392px;width:558px;background:linear-gradient(90deg,#000eff 0,#0003ff 98px,#0b00ff 124px,#6100ff 332px,#c500ff 558px)"></i>
<i style="left:2432px;top:1395px;width:553px;background:linear-gradient(90deg,#000eff 0,#0003ff 97px,#6000ff 329px,#c300ff 553px)"></i>
<i style="left:2434px;top:1398px;width:549px;background:linear-gradient(90deg,#000dff 0,#0002ff 95px,#5f00ff 326px,#c100ff 549px)"></i>
<i style="left:2436px;top:1401px;width:544px;background:linear-gradient(90deg,#000cff 0,#0002ff 94px,#5e00ff 323px,#bf00ff 544px)"></i>
<i style="left:2437px;top:1404px;width:541px;background:linear-gradient(90deg,#000cff 0,#0002ff 93px,#5d00ff 320px,#bd00ff 541px)"></i>
<i style="left:2439px;top:1407px;width:536px;background:linear-gradient(90deg,#000bff 0,#0001ff 91px,#5c00ff 317px,#ba00ff 536px)"></i>
<i style="left:2441px;top:1410px;width:532px;background:linear-gradient(90deg,#000bff 0,#0001ff 90px,#5b00ff 314px,#b900ff 532px)"></i>
<i style="left:2443px;top:1413px;width:527px;background:linear-gradient(90deg,#000aff 0,#0001ff 88px,#5a00ff 311px,#b700ff 527px)"></i>
<i style="left:2445px;top:1416px;width:523px;background:linear-gradient(90deg,#000aff 0,#0000ff 87px,#5900ff 308px,#b500ff 523px)"></i>
<i style="left:2447px;top:1419px;width:519px;background:linear-gradient(90deg,#0009ff 0,#0000ff 85px,#5800ff 305px,#b300ff 519px)"></i>
<i style="left:2449px;top:1422px;width:514px;background:linear-gradient(90deg,#0009ff 0,#0000ff 83px,#5700ff 302px,#b100ff 514px)"></i>
<i style="left:2451px;top:1425px;width:510px;background:linear-gradient(90deg,#0008ff 0,#0000ff 82px,#5600ff 299px,#af00ff 510px)"></i>
<i style="left:2453px;top:1428px;width:505px;background:linear-gradient(90deg,#0008ff 0,#0000ff 80px,#ad00ff 505px)"></i>
<i style="left:2455px;top:1431px;width:501px;background:linear-gradient(90deg,#0007ff 0,#0000ff 79px,#ab00ff 501px)"></i>
<i style="left:2457px;top:1434px;width:496px;background:linear-gradient(90deg,#0007ff 0,#0000ff 77px,#a900ff 496px)"></i>
<i style="left:2459px;top:1437px;width:492px;background:linear-gradient(90deg,#0006ff 0,#0000ff 75px,#a800ff 492px)"></i>
<i style="left:2461px;top:1440px;width:487px;background:linear-gradient(90deg,#0006ff 0,#0000ff 74px,#a600ff 487px)"></i>
<i style="left:2463px;top:1443px;width:483px;background:linear-gradient(90deg,#0005ff 0,#0000ff 72px,#a400ff 483px)"></i>
<i style="left:2465px;top:1446px;width:478px;background:linear-gradient(90deg,#0005ff 0,#0000ff 71px,#a200ff 478px)"></i>
<i style="left:2467px;top:1449px;width:474px;background:linear-gradient(90deg,#0004ff 0,#0000ff 69px,#a000ff 474px)"></i>
<i style="left:2468px;top:1452px;width:470px;background:linear-gradient(90deg,#0004ff 0,#0000ff 69px,#9e00ff 470px)"></i>
<i style="left:2471px;top:1455px;width:465px;background:linear-gradient(90deg,#0003ff 0,#0000ff 66px,#9d00ff 465px)"></i>
<i style="left:2473px;top:1458px;width:460px;background:linear-gradient(90deg,#0003ff 0,#0000ff 64px,#9b00ff 460px)"></i>
<i style="left:2475px;top:1461px;width:456px;background:linear-gradient(90deg,#0002ff 0,#0000ff 63px,#9900ff 456px)"></i>
<i style="left:2477px;top:1464px;width:452px;background:linear-gradient(90deg,#0002ff 0,#0000ff 61px,#9800ff 452px)"></i>
<i style="left:2479px;top:1467px;width:447px;background:linear-gradient(90deg,#0001ff 0,#0000ff 60px,#9600ff 447px)"></i>
<i style="left:2481px;top:1470px;width:443px;background:linear-gradient(90deg,#0001ff 0,#0000ff 58px,#9400ff 443px)"></i>
<i style="left:2483px;top:1473px;width:438px;background:linear-gradient(90deg,#0000ff 0,#0000ff 56px,#9200ff 438px)"></i>
<i style="left:2485px;top:1476px;width:434px;background:linear-gradient(90deg,#0000ff 0,#0000ff 55px,#9100ff 434px)"></i>
<i style="left:2487px;top:1479px;width:429px;background:linear-gradient(90deg,#0000ff 0,#0000ff 53px,#8f00ff 429px)"></i>
<i style="left:2489px;top:1482px;width:425px;background:linear-gradient(90deg,#0000ff 0,#0000ff 52px,#8e00ff 425px)"></i>
<i style="left:2491px;top:1485px;width:420px;background:linear-gradient(90deg,#0000ff 0,#0000ff 50px,#8c00ff 420px)"></i>
<i style="left:2493px;top:1488px;width:416px;background:linear-gradient(90deg,#0000ff 0,#0000ff 48px,#8a00ff 416px)"></i>
<i style="left:2496px;top:1491px;width:410px;background:linear-gradient(90deg,#0000ff 0,#0000ff 46px,#8900ff 410px)"></i>
<i style="left:2498px;top:1494px;width:406px;background:linear-gradient(90deg,#0000ff 0,#0000ff 44px,#8700ff 406px)"></i>
<i style="left:2500px;top:1497px;width:401px;background:linear-gradient(90deg,#0000ff 0,#0000ff 43px,#8500ff 401px)"></i>
<i style="left:2502px;top:1500px;width:397px;background:linear-gradient(90deg,#0000ff 0,#0000ff 41px,#8400ff 397px)"></i>
<i style="left:2504px;top:1503px;width:392px;background:linear-gradient(90deg,#0000ff 0,#0000ff 40px,#8200ff 392px)"></i>
<i style="left:2506px;top:1506px;width:388px;background:linear-gradient(90deg,#0000ff 0,#0000ff 38px,#8100ff 388px)"></i>
<i style="left:2509px;top:1509px;width:382px;background:linear-gradient(90deg,#0000ff 0,#0000ff 35px,#7f00ff 382px)"></i>
<i style="left:2511px;top:1512px;width:378px;background:linear-gradient(90deg,#0000ff 0,#0000ff 34px,#7e00ff 378px)"></i>
<i style="left:2513px;top:1515px;width:374px;background:linear-gradient(90deg,#0000ff 0,#0000ff 32px,#7c00ff 374px)"></i>
<i style="left:2515px;top:1518px;width:369px;background:linear-gradient(90deg,#0000ff 0,#0000ff 31px,#7b00ff 369px)"></i>
<i style="left:2518px;top:1521px;width:364px;background:linear-gradient(90deg,#0000ff 0,#0000ff 28px,#7900ff 364px)"></i>
<i style="left:2520px;top:1524px;width:359px;background:linear-gradient(90deg,#0000ff 0,#0000ff 26px,#7800ff 359px)"></i>
<i style="left:2522px;top:1527px;width:355px;background:linear-gradient(90deg,#0000ff 0,#0000ff 25px,#7600ff 355px)"></i>
<i style="left:2525px;top:1530px;width:349px;background:linear-gradient(90deg,#0000ff 0,#0000ff 22px,#7500ff 349px)"></i>
<i style="left:2527px;top:1533px;width:345px;background:linear-gradient(90deg,#0000ff 0,#0000ff 21px,#7400ff 345px)"></i>
<i style="left:2530px;top:1536px;width:339px;background:linear-gradient(90deg,#0000ff 0,#0000ff 18px,#7200ff 339px)"></i>
<i style="left:2532px;top:1539px;width:335px;background:linear-gradient(90deg,#0000ff 0,#0000ff 17px,#7100ff 335px)"></i>
<i style="left:2535px;top:1542px;width:329px;background:linear-gradient(90deg,#0000ff 0,#0000ff 14px,#6f00ff 329px)"></i>
<i style="left:2537px;top:1545px;width:325px;background:linear-gradient(90deg,#0000ff 0,#0000ff 12px,#6e00ff 325px)"></i>
<i style="left:2540px;top:1548px;width:319px;background:linear-gradient(90deg,#0000ff 0,#0a00ff 39px,#6c00ff 319px)"></i>
<i style="left:2542px;top:1551px;width:315px;background:linear-gradient(90deg,#0000ff 0,#1000ff 56px,#6b00ff 315px)"></i>
<i style="left:2545px;top:1554px;width:309px;background:linear-gradient(90deg,#0000ff 0,#6900ff 309px)"></i>
<i style="left:2547px;top:1557px;width:305px;background:linear-gradient(90deg,#0000ff 0,#6800ff 305px)"></i>
<i style="left:2550px;top:1560px;width:300px;background:linear-gradient(90deg,#0000ff 0,#6700ff 300px)"></i>
<i style="left:2553px;top:1563px;width:294px;background:linear-gradient(90deg,#0100ff 0,#6600ff 294px)"></i>
<i style="left:2555px;top:1566px;width:290px;background:linear-gradient(90deg,#0100ff 0,#6400ff 290px)"></i>
<i style="left:2558px;top:1569px;width:284px;background:linear-gradient(90deg,#0200ff 0,#6300ff 284px)"></i>
<i style="left:2561px;top:1572px;width:279px;background:linear-gradient(90deg,#0300ff 0,#6200ff 279px)"></i>
<i style="left:2563px;top:1575px;width:274px;background:linear-gradient(90deg,#0300ff 0,#6000ff 274px)"></i>
<i style="left:2566px;top:1578px;width:269px;background:linear-gradient(90deg,#0400ff 0,#5f00ff 269px)"></i>
<i style="left:2569px;top:1581px;width:263px;background:linear-gradient(90deg,#0500ff 0,#5e00ff 263px)"></i>
<i style="left:2572px;top:1584px;width:258px;background:linear-gradient(90deg,#0600ff 0,#5c00ff 258px)"></i>
<i style="left:2574px;top:1587px;width:253px;background:linear-gradient(90deg,#0600ff 0,#5b00ff 253px)"></i>
<i style="left:2577px;top:1590px;width:248px;background:linear-gradient(90deg,#0700ff 0,#5a00ff 248px)"></i>
<i style="left:2580px;top:1593px;width:242px;background:linear-gradient(90deg,#0800ff 0,#5800ff 242px)"></i>
<i style="left:2583px;top:1596px;width:237px;background:linear-gradient(90deg,#0900ff 0,#5700ff 237px)"></i>
<i style="left:2586px;top:1599px;width:231px;background:linear-gradient(90deg,#0a00ff 0,#5600ff 231px)"></i>
<i style="left:2589px;top:1602px;width:226px;background:linear-gradient(90deg,#0a00ff 0,#5500ff 226px)"></i>
<i style="left:2592px;top:1605px;width:221px;background:linear-gradient(90deg,#0b00ff 0,#5400ff 221px)"></i>
<i style="left:2595px;top:1608px;width:215px;background:linear-gradient(90deg,#0c00ff 0,#5200ff 215px)"></i>
<i style="left:2598px;top:1611px;width:210px;background:linear-gradient(90deg,#0d00ff 0,#5100ff 210px)"></i>
<i style="left:2601px;top:1614px;width:204px;background:linear-gradient(90deg,#0e00ff 0,#5000ff 204px)"></i>
<i style="left:2604px;top:1617px;width:199px;background:linear-gradient(90deg,#0e00ff 0,#4f00ff 199px)"></i>
<i style="left:2607px;top:1620px;width:193px;background:linear-gradient(90deg,#0f00ff 0,#4e00ff 193px)"></i>
<i style="left:2610px;top:1623px;width:188px;background:linear-gradient(90deg,#1000ff 0,#4d00ff 188px)"></i>
<i style="left:2613px;top:1626px;width:182px;background:linear-gradient(90deg,#1100ff 0,#4b00ff 182px)"></i>
<i style="left:2616px;top:1629px;width:177px;background:linear-gradient(90deg,#1100ff 0,#4a00ff 177px)"></i>
<i style="left:2619px;top:1632px;width:171px;background:linear-gradient(90deg,#1200ff 0,#4900ff 171px)"></i>
<i style="left:2622px;top:1635px;width:166px;background:linear-gradient(90deg,#1300ff 0,#4800ff 166px)"></i>
<i style="left:2625px;top:1638px;width:160px;background:linear-gradient(90deg,#1400ff 0,#4700ff 160px)"></i>
<i style="left:2628px;top:1641px;width:155px;background:linear-gradient(90deg,#1400ff 0,#4600ff 155px)"></i>
<i style="left:2631px;top:1644px;width:149px;background:linear-gradient(90deg,#1500ff 0,#4400ff 149px)"></i>
<i style="left:2635px;top:1647px;width:143px;background:linear-gradient(90deg,#1600ff 0,#4300ff 143px)"></i>
<i style="left:2638px;top:1650px;width:137px;background:linear-gradient(90deg,#1700ff 0,#4200ff 137px)"></i>
<i style="left:2641px;top:1653px;width:132px;background:linear-gradient(90deg,#1800ff 0,#4100ff 132px)"></i>
<i style="left:2644px;top:1656px;width:127px;background:linear-gradient(90deg,#1800ff 0,#4000ff 127px)"></i>
<i style="left:2647px;top:1659px;width:121px;background:linear-gradient(90deg,#1900ff 0,#3f00ff 121px)"></i>
<i style="left:2650px;top:1662px;width:116px;background:linear-gradient(90deg,#1a00ff 0,#3e00ff 116px)"></i>
<i style="left:2653px;top:1665px;width:110px;background:linear-gradient(90deg,#1b00ff 0,#3d00ff 110px)"></i>
<i style="left:2656px;top:1668px;width:105px;background:linear-gradient(90deg,#1b00ff 0,#3c00ff 105px)"></i>
<i style="left:2659px;top:1671px;width:99px;background:linear-gradient(90deg,#1c00ff 0,#3b00ff 99px)"></i>
<i style="left:2662px;top:1674px;width:94px;background:linear-gradient(90deg,#1d00ff 0,#3a00ff 94px)"></i>
<i style="left:2665px;top:1677px;width:88px;background:linear-gradient(90deg,#1d00ff 0,#3800ff 88px)"></i>
<i style="left:2668px;top:1680px;width:83px;background:linear-gradient(90deg,#1e00ff 0,#3800ff 83px)"></i>
<i style="left:2671px;top:1683px;width:77px;background:linear-gradient(90deg,#1f00ff 0,#3600ff 77px)"></i>
<i style="left:2674px;top:1686px;width:72px;background:linear-gradient(90deg,#2000ff 0,#3500ff 72px)"></i>
<i style="left:2677px;top:1689px;width:66px;background:linear-gradient(90deg,#2000ff 0,#3400ff 66px)"></i>
<i style="left:2680px;top:1692px;width:61px;background:linear-gradient(90deg,#2100ff 0,#3300ff 61px)"></i>
<i style="left:2683px;top:1695px;width:55px;background:linear-gradient(90deg,#2200ff 0,#3200ff 55px)"></i>
<i style="left:2686px;top:1698px;width:50px;background:linear-gradient(90deg,#2200ff 0,#3100ff 50px)"></i>
<i style="left:2689px;top:1701px;width:45px;background:linear-gradient(90deg,#2300ff 0,#3000ff 45px)"></i>
<i style="left:2693px;top:1704px;width:38px;background:linear-gradient(90deg,#2400ff 0,#2f00ff 38px)"></i>
<i style="left:2696px;top:1707px;width:33px;background:linear-gradient(90deg,#2500ff 0,#2e00ff 33px)"></i>
<i style="left:2699px;top:1710px;width:27px;background:linear-gradient(90deg,#2500ff 0,#2d00ff 27px)"></i>
<i style="left:2703px;top:1713px;width:21px;background:linear-gradient(90deg,#2600ff 0,#2d00ff 21px)"></i>
<i style="left:2707px;top:1716px;width:14px;background:linear-gradient(90deg,#2700ff 0,#2b00ff 14px)"></i>
</div>
<svg width="3840" height="2160" viewBox="0 0 3840 2160">
<defs>
<clipPath id="cf"><rect x="2129.5" y="500.5" width="1380.5" height="1249.0"/></clipPath>
</defs>
<g clip-path="url(#cf)"><path d="M2718.8 1715.9L2718.5 1715.7L2717.9 1716.2L2716.9 1716.0L2716.3 1717.0L2715.7 1717.2L2712.3 1717.0L2711.0 1716.6L2709.0 1715.6L2706.0 1713.4L2700.8 1709.1L2685.1 1694.6L2661.1 1670.6L2602.0 1612.7L2588.9 1599.5L2574.8 1584.7L2551.8 1559.2L2535.1 1539.6L2526.2 1528.6L2506.5 1502.8L2484.1 1471.3L2459.5 1434.6L2446.6 1414.6L2433.4 1393.4L2419.9 1371.1L2406.0 1347.6L2391.8 1322.9L2377.4 1296.9L2362.8 1269.9L2348.0 1241.9L2318.5 1184.1L2289.3 1124.6L2275.1 1094.4L2261.2 1064.1L2248.0 1033.8L2235.5 1003.8L2223.8 974.3L2212.8 945.4L2202.5 917.1L2192.8 889.6L2183.9 863.0L2175.6 837.5L2168.1 813.1L2161.4 789.9L2155.4 768.0L2150.2 747.5L2145.7 728.2L2141.8 710.2L2138.6 693.4L2136.1 677.6L2134.0 663.0L2132.6 649.5L2131.7 637.0L2131.3 625.4L2131.4 614.7L2131.9 604.7L2133.0 595.4L2134.5 586.8L2136.4 578.8L2138.8 571.5L2141.5 564.8L2144.7 558.7L2148.2 553.2L2152.1 548.3L2156.3 544.0L2160.8 540.3L2165.6 537.1L2170.6 534.3L2175.8 532.0L2181.3 530.0L2186.9 528.5L2192.6 527.2L2198.6 526.2L2210.9 524.9L2223.7 524.0L2236.7 523.7L2256.3 523.6L2276.0 524.1L2310.3 525.9L2332.1 527.7L2354.9 529.9L2387.3 533.4L2431.4 538.6L2557.4 555.0L3561.7 691.4ZM3164.6 657.1L2415.6 574.3L2531.5 1420.2Z" fill="#000" fill-opacity="0.4" fill-rule="evenodd"/></g>
<g clip-path="url(#cf)"><path d="M2718.8 1715.9L2718.5 1715.7L2717.9 1716.2L2716.9 1716.0L2716.3 1717.0L2715.7 1717.2L2712.3 1717.0L2711.0 1716.6L2709.0 1715.6L2706.0 1713.4L2700.8 1709.1L2685.1 1694.6L2661.1 1670.6L2602.0 1612.7L2588.9 1599.5L2574.8 1584.7L2551.8 1559.2L2535.1 1539.6L2526.2 1528.6L2506.5 1502.8L2484.1 1471.3L2459.5 1434.6L2446.6 1414.6L2433.4 1393.4L2419.9 1371.1L2406.0 1347.6L2391.8 1322.9L2377.4 1296.9L2362.8 1269.9L2348.0 1241.9L2318.5 1184.1L2289.3 1124.6L2275.1 1094.4L2261.2 1064.1L2248.0 1033.8L2235.5 1003.8L2223.8 974.3L2212.8 945.4L2202.5 917.1L2192.8 889.6L2183.9 863.0L2175.6 837.5L2168.1 813.1L2161.4 789.9L2155.4 768.0L2150.2 747.5L2145.7 728.2L2141.8 710.2L2138.6 693.4L2136.1 677.6L2134.0 663.0L2132.6 649.5L2131.7 637.0L2131.3 625.4L2131.4 614.7L2131.9 604.7L2133.0 595.4L2134.5 586.8L2136.4 578.8L2138.8 571.5L2141.5 564.8L2144.7 558.7L2148.2 553.2L2152.1 548.3L2156.3 544.0L2160.8 540.3L2165.6 537.1L2170.6 534.3L2175.8 532.0L2181.3 530.0L2186.9 528.5L2192.6 527.2L2198.6 526.2L2210.9 524.9L2223.7 524.0L2236.7 523.7L2256.3 523.6L2276.0 524.1L2310.3 525.9L2332.1 527.7L2354.9 529.9L2387.3 533.4L2431.4 538.6L2557.4 555.0L3561.7 691.4Z" fill="none" stroke="#232323" stroke-width="6" stroke-linejoin="round"/></g>
<g clip-path="url(#cf)">
<rect x="2402.3" y="560.6" width="27" height="27" fill="none" stroke="#fff" stroke-width="3"/>
<rect x="2453.5" y="622.8" width="27" height="27" fill="none" stroke="#fff" stroke-width="3"/>
<rect x="2537.9" y="601.0" width="27" height="27" fill="none" stroke="#fff" stroke-width="3"/>
<rect x="2584.1" y="582.0" width="27" height="27" fill="none" stroke="#fff" stroke-width="3"/>
<rect x="2640.6" y="593.0" width="27" height="27" fill="none" stroke="#fff" stroke-width="3"/>
<rect x="2709.0" y="609.0" width="27" height="27" fill="none" stroke="#fff" stroke-width="3"/>
<rect x="2532.3" y="658.0" width="27" height="27" fill="none" stroke="#fff" stroke-width="3"/>
<rect x="2467.1" y="739.8" width="27" height="27" fill="none" stroke="#fff" stroke-width="3"/>
<rect x="2431.9" y="785.5" width="27" height="27" fill="none" stroke="#fff" stroke-width="3"/>
<rect x="2442.9" y="864.7" width="27" height="27" fill="none" stroke="#fff" stroke-width="3"/>
<rect x="2518.7" y="859.1" width="27" height="27" fill="none" stroke="#fff" stroke-width="3"/>
<rect x="2562.1" y="872.3" width="27" height="27" fill="none" stroke="#fff" stroke-width="3"/>
<rect x="2638.0" y="916.1" width="27" height="27" fill="none" stroke="#fff" stroke-width="3"/>
<rect x="2774.0" y="845.3" width="27" height="27" fill="none" stroke="#fff" stroke-width="3"/>
<rect x="2524.1" y="994.7" width="27" height="27" fill="none" stroke="#fff" stroke-width="3"/>
<rect x="2524.3" y="1122.4" width="27" height="27" fill="none" stroke="#fff" stroke-width="3"/>
<rect x="2817.0" y="1046.0" width="27" height="27" fill="none" stroke="#fff" stroke-width="3"/>
<rect x="2518.9" y="1406.7" width="27" height="27" fill="none" stroke="#fff" stroke-width="3"/>
<rect x="3151.1" y="644.7" width="27" height="27" fill="none" stroke="#fff" stroke-width="3"/>
<rect x="2977.4" y="695.9" width="27" height="27" fill="none" stroke="#fff" stroke-width="3"/>
<rect x="2844.6" y="728.5" width="27" height="27" fill="none" stroke="#fff" stroke-width="3"/>
<rect x="2804.0" y="620.2" width="27" height="27" fill="none" stroke="#fff" stroke-width="3"/>
<rect x="2804.0" y="625.4" width="27" height="27" fill="none" stroke="#fff" stroke-width="3"/>
<rect x="2727.3" y="644.5" width="27" height="27" fill="none" stroke="#fff" stroke-width="3"/>
<rect x="2746.7" y="641.7" width="27" height="27" fill="none" stroke="#fff" stroke-width="3"/>
<rect x="2763.8" y="652.8" width="27" height="27" fill="none" stroke="#fff" stroke-width="3"/>
<rect x="2695.0" y="660.5" width="27" height="27" fill="none" stroke="#fff" stroke-width="3"/>
<rect x="2727.5" y="663.5" width="27" height="27" fill="none" stroke="#fff" stroke-width="3"/>
<rect x="2741.5" y="666.5" width="27" height="27" fill="none" stroke="#fff" stroke-width="3"/>
<rect x="2746.7" y="674.1" width="27" height="27" fill="none" stroke="#fff" stroke-width="3"/>
<rect x="2702.5" y="674.5" width="27" height="27" fill="none" stroke="#fff" stroke-width="3"/>
<rect x="2680.5" y="679.5" width="27" height="27" fill="none" stroke="#fff" stroke-width="3"/>
<rect x="2692.5" y="680.5" width="27" height="27" fill="none" stroke="#fff" stroke-width="3"/>
<rect x="2713.5" y="679.5" width="27" height="27" fill="none" stroke="#fff" stroke-width="3"/>
<rect x="2695.5" y="685.5" width="27" height="27" fill="none" stroke="#fff" stroke-width="3"/>
<rect x="2677.5" y="683.5" width="27" height="27" fill="none" stroke="#fff" stroke-width="3"/>
<rect x="2678.5" y="695.5" width="27" height="27" fill="none" stroke="#fff" stroke-width="3"/>
<rect x="2650.5" y="684.5" width="27" height="27" fill="none" stroke="#fff" stroke-width="3"/>
<rect x="2649.2" y="706.7" width="27" height="27" fill="none" stroke="#fff" stroke-width="3"/>
<rect x="2649.2" y="711.5" width="27" height="27" fill="none" stroke="#fff" stroke-width="3"/>
<rect x="2570.3" y="758.5" width="27" height="27" fill="none" stroke="#000" stroke-width="3"/>
<circle cx="2413.2" cy="576.9" r="8.2" fill="#00ff00" stroke="#000" stroke-width="2.1"/>
<circle cx="2461.4" cy="636.3" r="8.2" fill="#4a964a" stroke="#000" stroke-width="2.1"/>
<circle cx="2548.3" cy="614.2" r="8.2" fill="#a0bc44" stroke="#000" stroke-width="2.1"/>
<circle cx="2589.2" cy="595.5" r="8.2" fill="#ffff00" stroke="#000" stroke-width="2.1"/>
<circle cx="2651.5" cy="606.1" r="8.2" fill="#ecc428" stroke="#000" stroke-width="2.1"/>
<circle cx="2719.7" cy="622.6" r="8.2" fill="#e8a430" stroke="#000" stroke-width="2.1"/>
<circle cx="2545.8" cy="671.5" r="8.2" fill="#586c40" stroke="#000" stroke-width="2.1"/>
<circle cx="2480.6" cy="753.3" r="8.2" fill="#68bca8" stroke="#000" stroke-width="2.1"/>
<circle cx="2445.4" cy="796.3" r="8.2" fill="#00ffff" stroke="#000" stroke-width="2.1"/>
<circle cx="2454.0" cy="888.4" r="8.2" fill="#008ca8" stroke="#000" stroke-width="2.1"/>
<circle cx="2529.8" cy="870.0" r="8.2" fill="#6080a8" stroke="#000" stroke-width="2.1"/>
<circle cx="2578.1" cy="883.0" r="8.2" fill="#8484b8" stroke="#000" stroke-width="2.1"/>
<circle cx="2597.6" cy="899.4" r="9.3" fill="#000"/>
<circle cx="2657.1" cy="932.4" r="8.2" fill="#5c3c6c" stroke="#000" stroke-width="2.1"/>
<circle cx="2787.5" cy="856.2" r="8.2" fill="#c0609c" stroke="#000" stroke-width="2.1"/>
<circle cx="2535.0" cy="1011.0" r="8.2" fill="#4860a8" stroke="#000" stroke-width="2.1"/>
<circle cx="2540.6" cy="1138.5" r="8.2" fill="#3438a0" stroke="#000" stroke-width="2.1"/>
<circle cx="2830.5" cy="1059.5" r="8.2" fill="#ff00ff" stroke="#000" stroke-width="2.1"/>
<circle cx="2553.8" cy="1412.6" r="8.2" fill="#0000ff" stroke="#000" stroke-width="2.1"/>
<circle cx="3159.2" cy="655.6" r="8.2" fill="#ff0000" stroke="#000" stroke-width="2.1"/>
<circle cx="2993.7" cy="709.4" r="8.2" fill="#b83444" stroke="#000" stroke-width="2.1"/>
<circle cx="2858.1" cy="737.0" r="8.2" fill="#c4546a" stroke="#000" stroke-width="2.1"/>
<circle cx="2811.7" cy="634.0" r="8.2" fill="#c88030" stroke="#000" stroke-width="2.1"/>
<circle cx="2817.5" cy="639.1" r="8.2" fill="#a86028" stroke="#000" stroke-width="2.1"/>
<circle cx="2752.3" cy="677.8" r="8.2" fill="#d08860" stroke="#000" stroke-width="2.1"/>
<circle cx="2713.2" cy="685.7" r="8.2" fill="#f0a880" stroke="#000" stroke-width="2.1"/>
<circle cx="2688.5" cy="694.1" r="8.2" fill="#c88868" stroke="#000" stroke-width="2.1"/>
<circle cx="2706.6" cy="696.9" r="8.2" fill="#d0906c" stroke="#000" stroke-width="2.1"/>
<circle cx="2662.4" cy="723.9" r="8.2" fill="#d8a088" stroke="#000" stroke-width="2.1"/>
<circle cx="2738.1" cy="655.4" r="8.2" fill="#8c5a32" stroke="#000" stroke-width="2.1"/>
<circle cx="2757.4" cy="652.6" r="8.2" fill="#7a4a28" stroke="#000" stroke-width="2.1"/>
<circle cx="2777.0" cy="666.3" r="8.2" fill="#6a3c28" stroke="#000" stroke-width="2.1"/>
<circle cx="2706.5" cy="671.7" r="8.2" fill="#c08c60" stroke="#000" stroke-width="2.1"/>
<circle cx="2738.1" cy="674.5" r="8.2" fill="#d89060" stroke="#000" stroke-width="2.1"/>
<circle cx="2757.4" cy="688.0" r="8.2" fill="#f8a080" stroke="#000" stroke-width="2.1"/>
<circle cx="2691.7" cy="690.8" r="8.2" fill="#c89070" stroke="#000" stroke-width="2.1"/>
<circle cx="2703.9" cy="690.8" r="8.2" fill="#cc9070" stroke="#000" stroke-width="2.1"/>
<circle cx="2725.1" cy="690.8" r="8.2" fill="#d09070" stroke="#000" stroke-width="2.1"/>
<circle cx="2689.7" cy="707.1" r="8.2" fill="#705040" stroke="#000" stroke-width="2.1"/>
<circle cx="2662.4" cy="695.5" r="8.2" fill="#fcc8a0" stroke="#000" stroke-width="2.1"/>
<circle cx="2659.6" cy="717.4" r="8.2" fill="#fccab4" stroke="#000" stroke-width="2.1"/>
<circle cx="2579.6" cy="770.4" r="8.2" fill="#101010" stroke="#000" stroke-width="2.1"/>
<circle cx="2581.2" cy="771.0" r="8.2" fill="#585858" stroke="#000" stroke-width="2.1"/>
<circle cx="2582.6" cy="771.6" r="8.2" fill="#d0d0d0" stroke="#000" stroke-width="2.1"/>
<circle cx="2584.0" cy="772.2" r="8.2" fill="#a0a0a0" stroke="#000" stroke-width="2.1"/>
</g>
<rect x="2128.0" y="499.0" width="1383.5" height="1252.0" fill="none" stroke="#999999" stroke-width="3"/>
<rect x="2126.1" y="1752.5" width="3" height="11.5" fill="#ececec"/>
<text x="2127.6" y="1793.8" text-anchor="middle">0</text>
<rect x="2241.3" y="1752.5" width="3" height="11.5" fill="#ececec"/>
<text x="2242.8" y="1793.8" text-anchor="middle">0.05</text>
<rect x="2356.5" y="1752.5" width="3" height="11.5" fill="#ececec"/>
<text x="2358.0" y="1793.8" text-anchor="middle">0.1</text>
<rect x="2471.7" y="1752.5" width="3" height="11.5" fill="#ececec"/>
<text x="2473.2" y="1793.8" text-anchor="middle">0.15</text>
<rect x="2586.9" y="1752.5" width="3" height="11.5" fill="#ececec"/>
<text x="2588.4" y="1793.8" text-anchor="middle">0.2</text>
<rect x="2702.1" y="1752.5" width="3" height="11.5" fill="#ececec"/>
<text x="2703.6" y="1793.8" text-anchor="middle">0.25</text>
<rect x="2817.3" y="1752.5" width="3" height="11.5" fill="#ececec"/>
<text x="2818.8" y="1793.8" text-anchor="middle">0.3</text>
<rect x="2932.5" y="1752.5" width="3" height="11.5" fill="#ececec"/>
<text x="2934.0" y="1793.8" text-anchor="middle">0.35</text>
<rect x="3047.7" y="1752.5" width="3" height="11.5" fill="#ececec"/>
<text x="3049.2" y="1793.8" text-anchor="middle">0.4</text>
<rect x="3162.9" y="1752.5" width="3" height="11.5" fill="#ececec"/>
<text x="3164.4" y="1793.8" text-anchor="middle">0.45</text>
<rect x="3278.1" y="1752.5" width="3" height="11.5" fill="#ececec"/>
<text x="3279.6" y="1793.8" text-anchor="middle">0.5</text>
<rect x="3393.3" y="1752.5" width="3" height="11.5" fill="#ececec"/>
<text x="3394.8" y="1793.8" text-anchor="middle">0.55</text>
<rect x="2114.5" y="1749.4" width="12" height="3" fill="#ececec"/>
<text x="2115.5" y="1764.9" text-anchor="end">0</text>
<rect x="2114.5" y="1647.0" width="12" height="3" fill="#ececec"/>
<text x="2115.5" y="1659.5" text-anchor="end">0.05</text>
<rect x="2114.5" y="1542.5" width="12" height="3" fill="#ececec"/>
<text x="2115.5" y="1555.0" text-anchor="end">0.1</text>
<rect x="2114.5" y="1438.1" width="12" height="3" fill="#ececec"/>
<text x="2115.5" y="1450.6" text-anchor="end">0.15</text>
<rect x="2114.5" y="1333.6" width="12" height="3" fill="#ececec"/>
<text x="2115.5" y="1346.1" text-anchor="end">0.2</text>
<rect x="2114.5" y="1229.1" width="12" height="3" fill="#ececec"/>
<text x="2115.5" y="1241.6" text-anchor="end">0.25</text>
<rect x="2114.5" y="1124.6" width="12" height="3" fill="#ececec"/>
<text x="2115.5" y="1137.1" text-anchor="end">0.3</text>
<rect x="2114.5" y="1020.1" width="12" height="3" fill="#ececec"/>
<text x="2115.5" y="1032.6" text-anchor="end">0.35</text>
<rect x="2114.5" y="915.7" width="12" height="3" fill="#ececec"/>
<text x="2115.5" y="928.2" text-anchor="end">0.4</text>
<rect x="2114.5" y="811.2" width="12" height="3" fill="#ececec"/>
<text x="2115.5" y="823.7" text-anchor="end">0.45</text>
<rect x="2114.5" y="706.7" width="12" height="3" fill="#ececec"/>
<text x="2115.5" y="719.2" text-anchor="end">0.5</text>
<rect x="2114.5" y="602.2" width="12" height="3" fill="#ececec"/>
<text x="2115.5" y="614.7" text-anchor="end">0.55</text>
<rect x="326" y="512.5" width="875" height="1234.0" fill="#232323"/>
<defs>
<linearGradient id="g000000"><stop offset="0" stop-color="#616161"/><stop offset=".22" stop-color="#000000"/><stop offset=".55" stop-color="#000000"/><stop offset="1" stop-color="#000000"/></linearGradient>
<linearGradient id="g0000ff"><stop offset="0" stop-color="#6161ff"/><stop offset=".22" stop-color="#0000ff"/><stop offset=".55" stop-color="#0000ff"/><stop offset="1" stop-color="#00008c"/></linearGradient>
<linearGradient id="g0092b4"><stop offset="0" stop-color="#61bbd0"/><stop offset=".22" stop-color="#0092b4"/><stop offset=".55" stop-color="#0092b4"/><stop offset="1" stop-color="#005063"/></linearGradient>
<linearGradient id="g00ff00"><stop offset="0" stop-color="#61ff61"/><stop offset=".22" stop-color="#00ff00"/><stop offset=".55" stop-color="#00ff00"/><stop offset="1" stop-color="#008c00"/></linearGradient>
<linearGradient id="g00ffff"><stop offset="0" stop-color="#61ffff"/><stop offset=".22" stop-color="#00ffff"/><stop offset=".55" stop-color="#00ffff"/><stop offset="1" stop-color="#008c8c"/></linearGradient>
<linearGradient id="g3438a0"><stop offset="0" stop-color="#8184c4"/><stop offset=".22" stop-color="#3438a0"/><stop offset=".55" stop-color="#3438a0"/><stop offset="1" stop-color="#1d1f58"/></linearGradient>
<linearGradient id="g4860a8"><stop offset="0" stop-color="#8e9cc9"/><stop offset=".22" stop-color="#4860a8"/><stop offset=".55" stop-color="#4860a8"/><stop offset="1" stop-color="#28355c"/></linearGradient>
<linearGradient id="g4a964a"><stop offset="0" stop-color="#8fbe8f"/><stop offset=".22" stop-color="#4a964a"/><stop offset=".55" stop-color="#4a964a"/><stop offset="1" stop-color="#295229"/></linearGradient>
<linearGradient id="g586c40"><stop offset="0" stop-color="#97a489"/><stop offset=".22" stop-color="#586c40"/><stop offset=".55" stop-color="#586c40"/><stop offset="1" stop-color="#303b23"/></linearGradient>
<linearGradient id="g5c3c6c"><stop offset="0" stop-color="#9a86a4"/><stop offset=".22" stop-color="#5c3c6c"/><stop offset=".55" stop-color="#5c3c6c"/><stop offset="1" stop-color="#33213b"/></linearGradient>
<linearGradient id="g5cbca8"><stop offset="0" stop-color="#9ad5c9"/><stop offset=".22" stop-color="#5cbca8"/><stop offset=".55" stop-color="#5cbca8"/><stop offset="1" stop-color="#33675c"/></linearGradient>
<linearGradient id="g6080a8"><stop offset="0" stop-color="#9cb0c9"/><stop offset=".22" stop-color="#6080a8"/><stop offset=".55" stop-color="#6080a8"/><stop offset="1" stop-color="#35465c"/></linearGradient>
<linearGradient id="g7a4a28"><stop offset="0" stop-color="#ad8f7a"/><stop offset=".22" stop-color="#7a4a28"/><stop offset=".55" stop-color="#7a4a28"/><stop offset="1" stop-color="#432916"/></linearGradient>
<linearGradient id="g7a4a30"><stop offset="0" stop-color="#ad8f7f"/><stop offset=".22" stop-color="#7a4a30"/><stop offset=".55" stop-color="#7a4a30"/><stop offset="1" stop-color="#43291a"/></linearGradient>
<linearGradient id="g805848"><stop offset="0" stop-color="#b0978e"/><stop offset=".22" stop-color="#805848"/><stop offset=".55" stop-color="#805848"/><stop offset="1" stop-color="#463028"/></linearGradient>
<linearGradient id="g8484b8"><stop offset="0" stop-color="#b3b3d3"/><stop offset=".22" stop-color="#8484b8"/><stop offset=".55" stop-color="#8484b8"/><stop offset="1" stop-color="#494965"/></linearGradient>
<linearGradient id="g8c5a32"><stop offset="0" stop-color="#b89980"/><stop offset=".22" stop-color="#8c5a32"/><stop offset=".55" stop-color="#8c5a32"/><stop offset="1" stop-color="#4d321c"/></linearGradient>
<linearGradient id="ga0a0a0"><stop offset="0" stop-color="#c4c4c4"/><stop offset=".22" stop-color="#a0a0a0"/><stop offset=".55" stop-color="#a0a0a0"/><stop offset="1" stop-color="#585858"/></linearGradient>
<linearGradient id="ga0bc44"><stop offset="0" stop-color="#c4d58b"/><stop offset=".22" stop-color="#a0bc44"/><stop offset=".55" stop-color="#a0bc44"/><stop offset="1" stop-color="#586725"/></linearGradient>
<linearGradient id="ga85c24"><stop offset="0" stop-color="#c99a77"/><stop offset=".22" stop-color="#a85c24"/><stop offset=".55" stop-color="#a85c24"/><stop offset="1" stop-color="#5c3314"/></linearGradient>
<linearGradient id="gb83444"><stop offset="0" stop-color="#d3818b"/><stop offset=".22" stop-color="#b83444"/><stop offset=".55" stop-color="#b83444"/><stop offset="1" stop-color="#651d25"/></linearGradient>
<linearGradient id="gc0609c"><stop offset="0" stop-color="#d89cc2"/><stop offset=".22" stop-color="#c0609c"/><stop offset=".55" stop-color="#c0609c"/><stop offset="1" stop-color="#6a3556"/></linearGradient>
<linearGradient id="gc0c0c0"><stop offset="0" stop-color="#d8d8d8"/><stop offset=".22" stop-color="#c0c0c0"/><stop offset=".55" stop-color="#c0c0c0"/><stop offset="1" stop-color="#6a6a6a"/></linearGradient>
<linearGradient id="gc4546a"><stop offset="0" stop-color="#da95a3"/><stop offset=".22" stop-color="#c4546a"/><stop offset=".55" stop-color="#c4546a"/><stop offset="1" stop-color="#6c2e3a"/></linearGradient>
<linearGradient id="gc48c5e"><stop offset="0" stop-color="#dab89b"/><stop offset=".22" stop-color="#c48c5e"/><stop offset=".55" stop-color="#c48c5e"/><stop offset="1" stop-color="#6c4d34"/></linearGradient>
<linearGradient id="gc88866"><stop offset="0" stop-color="#ddb5a0"/><stop offset=".22" stop-color="#c88866"/><stop offset=".55" stop-color="#c88866"/><stop offset="1" stop-color="#6e4b38"/></linearGradient>
<linearGradient id="gc89070"><stop offset="0" stop-color="#ddbaa6"/><stop offset=".22" stop-color="#c89070"/><stop offset=".55" stop-color="#c89070"/><stop offset="1" stop-color="#6e4f3e"/></linearGradient>
<linearGradient id="gd08868"><stop offset="0" stop-color="#e2b5a1"/><stop offset=".22" stop-color="#d08868"/><stop offset=".55" stop-color="#d08868"/><stop offset="1" stop-color="#724b39"/></linearGradient>
<linearGradient id="gd09a7a"><stop offset="0" stop-color="#e2c0ad"/><stop offset=".22" stop-color="#d09a7a"/><stop offset=".55" stop-color="#d09a7a"/><stop offset="1" stop-color="#725543"/></linearGradient>
<linearGradient id="gd0a08c"><stop offset="0" stop-color="#e2c4b8"/><stop offset=".22" stop-color="#d0a08c"/><stop offset=".55" stop-color="#d0a08c"/><stop offset="1" stop-color="#72584d"/></linearGradient>
<linearGradient id="gd4d4d4"><stop offset="0" stop-color="#e4e4e4"/><stop offset=".22" stop-color="#d4d4d4"/><stop offset=".55" stop-color="#d4d4d4"/><stop offset="1" stop-color="#757575"/></linearGradient>
<linearGradient id="gd88860"><stop offset="0" stop-color="#e7b59c"/><stop offset=".22" stop-color="#d88860"/><stop offset=".55" stop-color="#d88860"/><stop offset="1" stop-color="#774b35"/></linearGradient>
<linearGradient id="gd8905e"><stop offset="0" stop-color="#e7ba9b"/><stop offset=".22" stop-color="#d8905e"/><stop offset=".55" stop-color="#d8905e"/><stop offset="1" stop-color="#774f34"/></linearGradient>
<linearGradient id="gd89868"><stop offset="0" stop-color="#e7bfa1"/><stop offset=".22" stop-color="#d89868"/><stop offset=".55" stop-color="#d89868"/><stop offset="1" stop-color="#775439"/></linearGradient>
<linearGradient id="ge07c2c"><stop offset="0" stop-color="#ecae7c"/><stop offset=".22" stop-color="#e07c2c"/><stop offset=".55" stop-color="#e07c2c"/><stop offset="1" stop-color="#7b4418"/></linearGradient>
<linearGradient id="ge0a080"><stop offset="0" stop-color="#ecc4b0"/><stop offset=".22" stop-color="#e0a080"/><stop offset=".55" stop-color="#e0a080"/><stop offset="1" stop-color="#7b5846"/></linearGradient>
<linearGradient id="ge8a430"><stop offset="0" stop-color="#f1c77f"/><stop offset=".22" stop-color="#e8a430"/><stop offset=".55" stop-color="#e8a430"/><stop offset="1" stop-color="#805a1a"/></linearGradient>
<linearGradient id="ge8e8e8"><stop offset="0" stop-color="#f1f1f1"/><stop offset=".22" stop-color="#e8e8e8"/><stop offset=".55" stop-color="#e8e8e8"/><stop offset="1" stop-color="#808080"/></linearGradient>
<linearGradient id="gecc428"><stop offset="0" stop-color="#f3da7a"/><stop offset=".22" stop-color="#ecc428"/><stop offset=".55" stop-color="#ecc428"/><stop offset="1" stop-color="#826c16"/></linearGradient>
<linearGradient id="gf0a47c"><stop offset="0" stop-color="#f6c7ae"/><stop offset=".22" stop-color="#f0a47c"/><stop offset=".55" stop-color="#f0a47c"/><stop offset="1" stop-color="#845a44"/></linearGradient>
<linearGradient id="gf89c78"><stop offset="0" stop-color="#fbc2ab"/><stop offset=".22" stop-color="#f89c78"/><stop offset=".55" stop-color="#f89c78"/><stop offset="1" stop-color="#885642"/></linearGradient>
<linearGradient id="gfcc8a0"><stop offset="0" stop-color="#fdddc4"/><stop offset=".22" stop-color="#fcc8a0"/><stop offset=".55" stop-color="#fcc8a0"/><stop offset="1" stop-color="#8b6e58"/></linearGradient>
<linearGradient id="gfccab4"><stop offset="0" stop-color="#fdded0"/><stop offset=".22" stop-color="#fccab4"/><stop offset=".55" stop-color="#fccab4"/><stop offset="1" stop-color="#8b6f63"/></linearGradient>
<linearGradient id="gff0000"><stop offset="0" stop-color="#ff6161"/><stop offset=".22" stop-color="#ff0000"/><stop offset=".55" stop-color="#ff0000"/><stop offset="1" stop-color="#8c0000"/></linearGradient>
<linearGradient id="gff00ff"><stop offset="0" stop-color="#ff61ff"/><stop offset=".22" stop-color="#ff00ff"/><stop offset=".55" stop-color="#ff00ff"/><stop offset="1" stop-color="#8c008c"/></linearGradient>
<linearGradient id="gffff00"><stop offset="0" stop-color="#ffff61"/><stop offset=".22" stop-color="#ffff00"/><stop offset=".55" stop-color="#ffff00"/><stop offset="1" stop-color="#8c8c00"/></linearGradient>
<linearGradient id="gffffff"><stop offset="0" stop-color="#ffffff"/><stop offset=".22" stop-color="#ffffff"/><stop offset=".55" stop-color="#ffffff"/><stop offset="1" stop-color="#8c8c8c"/></linearGradient>
</defs>
<rect x="329" y="516" width="29.8" height="22" fill="#000"/><rect x="329" y="519" width="26.8" height="16" fill="url(#gd8905e)"/>
<rect x="329" y="542" width="46.6" height="22" fill="#000"/><rect x="329" y="545" width="43.6" height="16" fill="url(#g7a4a28)"/>
<rect x="329" y="568" width="10.4" height="22" fill="#000"/><rect x="329" y="571" width="7.4" height="16" fill="url(#gd89868)"/>
<rect x="329" y="594" width="4.8" height="22" fill="#000"/><rect x="329" y="597" width="1.8" height="16" fill="url(#ge0a080)"/>
<rect x="329" y="620" width="24.6" height="22" fill="#000"/><rect x="329" y="623" width="21.6" height="16" fill="url(#gc89070)"/>
<rect x="329" y="646" width="24.6" height="22" fill="#000"/><rect x="329" y="649" width="21.6" height="16" fill="url(#gf89c78)"/>
<rect x="329" y="673" width="13.6" height="22" fill="#000"/><rect x="329" y="676" width="10.6" height="16" fill="url(#gd08868)"/>
<rect x="329" y="699" width="38.2" height="22" fill="#000"/><rect x="329" y="702" width="35.2" height="16" fill="url(#gd88860)"/>
<rect x="329" y="725" width="16.0" height="22" fill="#000"/><rect x="329" y="728" width="13.0" height="16" fill="url(#ga85c24)"/>
<rect x="329" y="751" width="38.2" height="22" fill="#000"/><rect x="329" y="754" width="35.2" height="16" fill="url(#gd09a7a)"/>
<rect x="329" y="778" width="40.6" height="22" fill="#000"/><rect x="329" y="781" width="37.6" height="16" fill="url(#g8c5a32)"/>
<rect x="329" y="804" width="49.0" height="22" fill="#000"/><rect x="329" y="807" width="46.0" height="16" fill="url(#gc48c5e)"/>
<rect x="329" y="830" width="21.6" height="22" fill="#000"/><rect x="329" y="833" width="18.6" height="16" fill="url(#gf0a47c)"/>
<rect x="329" y="856" width="35.4" height="22" fill="#000"/><rect x="329" y="859" width="32.4" height="16" fill="url(#gfccab4)"/>
<rect x="329" y="882" width="46.4" height="22" fill="#000"/><rect x="329" y="885" width="43.4" height="16" fill="url(#gfcc8a0)"/>
<rect x="329" y="908" width="16.0" height="22" fill="#000"/><rect x="329" y="911" width="13.0" height="16" fill="url(#gc88866)"/>
<rect x="329" y="935" width="13.6" height="22" fill="#000"/><rect x="329" y="938" width="10.6" height="16" fill="url(#g7a4a30)"/>
<rect x="329" y="961" width="72.7" height="22" fill="#000"/><rect x="329" y="964" width="69.7" height="16" fill="url(#gffff00)"/>
<rect x="329" y="987" width="7.6" height="22" fill="#000"/><rect x="329" y="990" width="4.6" height="16" fill="url(#gff00ff)"/>
<rect x="329" y="1013" width="29.8" height="22" fill="#000"/><rect x="329" y="1016" width="26.8" height="16" fill="url(#g00ffff)"/>
<rect x="329" y="1040" width="94.8" height="22" fill="#000"/><rect x="329" y="1043" width="91.8" height="16" fill="url(#g0000ff)"/>
<rect x="329" y="1066" width="13.6" height="22" fill="#000"/><rect x="329" y="1069" width="10.6" height="16" fill="url(#g00ff00)"/>
<rect x="329" y="1092" width="24.6" height="22" fill="#000"/><rect x="329" y="1095" width="21.6" height="16" fill="url(#gff0000)"/>
<rect x="329" y="1118" width="75.7" height="22" fill="#000"/><rect x="329" y="1121" width="72.7" height="16" fill="url(#g0092b4)"/>
<rect x="329" y="1144" width="24.6" height="22" fill="#000"/><rect x="329" y="1147" width="21.6" height="16" fill="url(#gc0609c)"/>
<rect x="329" y="1170" width="24.6" height="22" fill="#000"/><rect x="329" y="1173" width="21.6" height="16" fill="url(#gecc428)"/>
<rect x="329" y="1197" width="13.6" height="22" fill="#000"/><rect x="329" y="1200" width="10.6" height="16" fill="url(#gb83444)"/>
<rect x="329" y="1223" width="29.8" height="22" fill="#000"/><rect x="329" y="1226" width="26.8" height="16" fill="url(#g4a964a)"/>
<rect x="329" y="1249" width="24.6" height="22" fill="#000"/><rect x="329" y="1252" width="21.6" height="16" fill="url(#g3438a0)"/>
<rect x="329" y="1275" width="38.2" height="22" fill="#000"/><rect x="329" y="1278" width="35.2" height="16" fill="url(#ge8a430)"/>
<rect x="329" y="1302" width="19.0" height="22" fill="#000"/><rect x="329" y="1305" width="16.0" height="16" fill="url(#ga0bc44)"/>
<rect x="329" y="1328" width="16.0" height="22" fill="#000"/><rect x="329" y="1331" width="13.0" height="16" fill="url(#g5c3c6c)"/>
<rect x="329" y="1354" width="43.8" height="22" fill="#000"/><rect x="329" y="1357" width="40.8" height="16" fill="url(#gc4546a)"/>
<rect x="329" y="1380" width="19.0" height="22" fill="#000"/><rect x="329" y="1383" width="16.0" height="16" fill="url(#g4860a8)"/>
<rect x="329" y="1406" width="32.6" height="22" fill="#000"/><rect x="329" y="1409" width="29.6" height="16" fill="url(#ge07c2c)"/>
<rect x="329" y="1432" width="19.0" height="22" fill="#000"/><rect x="329" y="1435" width="16.0" height="16" fill="url(#g5cbca8)"/>
<rect x="329" y="1459" width="21.6" height="22" fill="#000"/><rect x="329" y="1462" width="18.6" height="16" fill="url(#g8484b8)"/>
<rect x="329" y="1485" width="16.0" height="22" fill="#000"/><rect x="329" y="1488" width="13.0" height="16" fill="url(#g586c40)"/>
<rect x="329" y="1511" width="49.0" height="22" fill="#000"/><rect x="329" y="1514" width="46.0" height="16" fill="url(#g6080a8)"/>
<rect x="329" y="1537" width="7.6" height="22" fill="#000"/><rect x="329" y="1540" width="4.6" height="16" fill="url(#gd0a08c)"/>
<rect x="329" y="1564" width="10.4" height="22" fill="#000"/><rect x="329" y="1567" width="7.4" height="16" fill="url(#g805848)"/>
<rect x="329" y="1590" width="35.6" height="22" fill="#000"/><rect x="329" y="1593" width="32.6" height="16" fill="url(#g000000)"/>
<rect x="329" y="1616" width="35.4" height="22" fill="#000"/><rect x="329" y="1619" width="32.4" height="16" fill="url(#ga0a0a0)"/>
<rect x="329" y="1642" width="32.6" height="22" fill="#000"/><rect x="329" y="1645" width="29.6" height="16" fill="url(#gc0c0c0)"/>
<rect x="329" y="1668" width="10.4" height="22" fill="#000"/><rect x="329" y="1671" width="7.4" height="16" fill="url(#gd4d4d4)"/>
<rect x="329" y="1694" width="38.2" height="22" fill="#000"/><rect x="329" y="1697" width="35.2" height="16" fill="url(#ge8e8e8)"/>
<rect x="329" y="1721" width="27.0" height="22" fill="#000"/><rect x="329" y="1724" width="24.0" height="16" fill="url(#gffffff)"/>
<rect x="440.2" y="512.5" width="3" height="1234.0" fill="#999999"/>
<rect x="557.2" y="512.5" width="3" height="1234.0" fill="#999999"/>
<rect x="673.1" y="512.5" width="3" height="1234.0" fill="#999999"/>
<rect x="790.5" y="512.5" width="3" height="1234.0" fill="#999999"/>
<rect x="1021.7" y="512.5" width="3" height="1234.0" fill="#999999"/>
<rect x="1137.6" y="512.5" width="3" height="1234.0" fill="#999999"/>
<rect x="383.0" y="512.5" width="3" height="1234.0" fill="#008000"/>
<rect x="499.5" y="512.5" width="3" height="1234.0" fill="#ffff00"/>
<rect x="907.9" y="512.5" width="3" height="1234.0" fill="#ff0000"/>
<rect x="327.5" y="514.0" width="872" height="1231.0" fill="none" stroke="#999999" stroke-width="3"/>
<rect x="326" y="1746.5" width="3" height="11.5" fill="#ececec"/>
<text x="327.5" y="1789.6" text-anchor="middle">0</text>
<rect x="440.2" y="1746.5" width="3" height="11.5" fill="#ececec"/>
<text x="441.7" y="1789.6" text-anchor="middle">2</text>
<rect x="557.2" y="1746.5" width="3" height="11.5" fill="#ececec"/>
<text x="558.7" y="1789.6" text-anchor="middle">4</text>
<rect x="673.1" y="1746.5" width="3" height="11.5" fill="#ececec"/>
<text x="674.6" y="1789.6" text-anchor="middle">6</text>
<rect x="790.5" y="1746.5" width="3" height="11.5" fill="#ececec"/>
<text x="792.0" y="1789.6" text-anchor="middle">8</text>
<rect x="907.9" y="1746.5" width="3" height="11.5" fill="#ececec"/>
<text x="909.4" y="1789.6" text-anchor="middle">10</text>
<rect x="1021.7" y="1746.5" width="3" height="11.5" fill="#ececec"/>
<text x="1023.2" y="1789.6" text-anchor="middle">12</text>
<rect x="1137.6" y="1746.5" width="3" height="11.5" fill="#ececec"/>
<text x="1139.1" y="1789.6" text-anchor="middle">14</text>
<g transform="translate(109.3 2057.5) rotate(45)">
<path d="M-64.1 -64.1L-10.5 -64.1L-10.5 -57.8L-57.8 -57.8L-57.8 -10.5L-64.1 -10.5Z" fill="#ffc80a" stroke="#ffc80a" stroke-width="15.0" stroke-linejoin="round"/>
<path d="M64.1 -64.1L10.5 -64.1L10.5 -57.8L57.8 -57.8L57.8 -10.5L64.1 -10.5Z" fill="#00dc00" stroke="#00dc00" stroke-width="15.0" stroke-linejoin="round"/>
<path d="M-64.1 64.1L-10.5 64.1L-10.5 57.8L-57.8 57.8L-57.8 10.5L-64.1 10.5Z" fill="#4cc8f4" stroke="#4cc8f4" stroke-width="15.0" stroke-linejoin="round"/>
<path d="M64.1 64.1L10.5 64.1L10.5 57.8L57.8 57.8L57.8 10.5L64.1 10.5Z" fill="#ee1458" stroke="#ee1458" stroke-width="15.0" stroke-linejoin="round"/>
<rect x="-42.5" y="-42.5" width="38.0" height="38.0" rx="7.5" fill="#ffc80a"/>
<rect x="4.5" y="-42.5" width="38.0" height="38.0" rx="7.5" fill="#00dc00"/>
<rect x="-42.5" y="4.5" width="38.0" height="38.0" rx="7.5" fill="#4cc8f4"/>
<rect x="4.5" y="4.5" width="38.0" height="38.0" rx="7.5" fill="#ee1458"/>
</g>
</svg>
</body></html>
